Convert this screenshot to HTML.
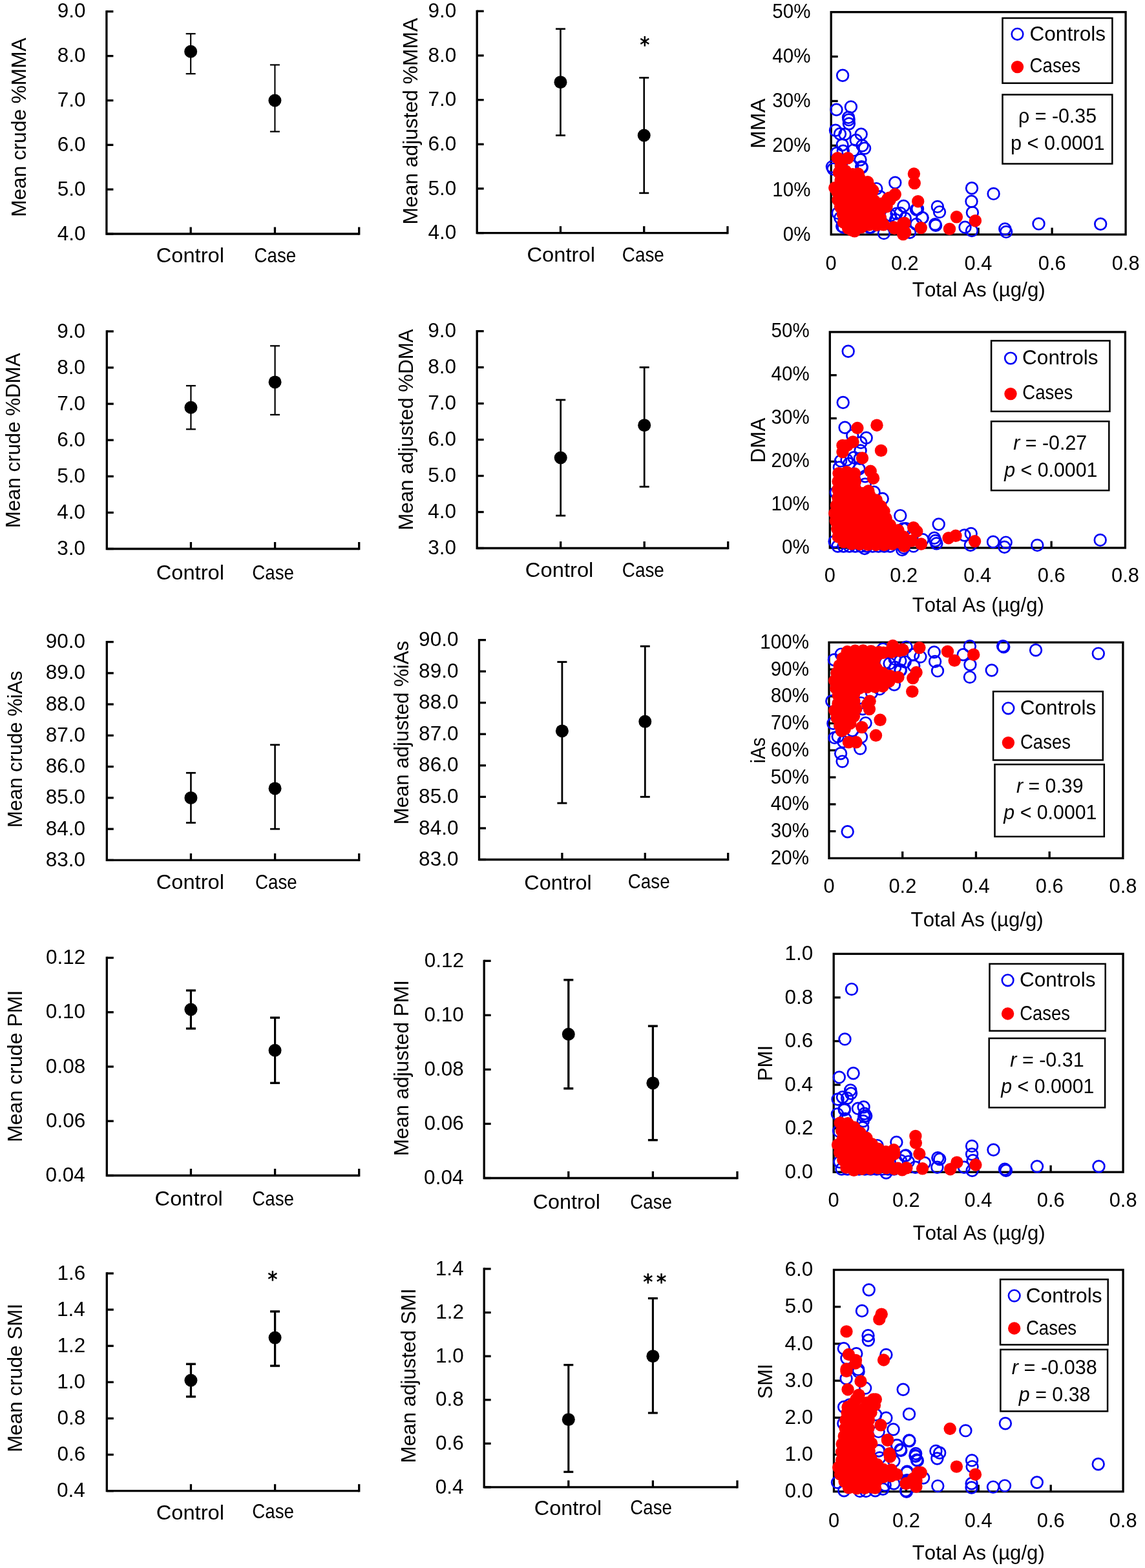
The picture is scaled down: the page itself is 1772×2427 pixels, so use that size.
<!DOCTYPE html><html><head><meta charset="utf-8"><title>Figure</title><style>html,body{margin:0;padding:0;background:#fff;}svg{display:block;}text{font-family:"Liberation Sans",Arial,sans-serif;font-kerning:none;}</style></head><body>
<svg xmlns="http://www.w3.org/2000/svg" width="1772" height="2427" viewBox="0 0 1772 2427">
<rect width="1772" height="2427" fill="#fff"/>
<path d="M164.90 16.15 L164.90 362.00 L555.70 362.00" fill="none" stroke="#000" stroke-width="3.30" stroke-linejoin="miter"/>
<line x1="164.90" y1="362.00" x2="175.40" y2="362.00" stroke="#000" stroke-width="3.30" stroke-linecap="butt"/>
<line x1="164.90" y1="293.16" x2="175.40" y2="293.16" stroke="#000" stroke-width="3.30" stroke-linecap="butt"/>
<line x1="164.90" y1="224.32" x2="175.40" y2="224.32" stroke="#000" stroke-width="3.30" stroke-linecap="butt"/>
<line x1="164.90" y1="155.48" x2="175.40" y2="155.48" stroke="#000" stroke-width="3.30" stroke-linecap="butt"/>
<line x1="164.90" y1="86.64" x2="175.40" y2="86.64" stroke="#000" stroke-width="3.30" stroke-linecap="butt"/>
<line x1="164.90" y1="17.80" x2="175.40" y2="17.80" stroke="#000" stroke-width="3.30" stroke-linecap="butt"/>
<line x1="295.17" y1="362.00" x2="295.17" y2="351.50" stroke="#000" stroke-width="3.30" stroke-linecap="butt"/>
<line x1="425.43" y1="362.00" x2="425.43" y2="351.50" stroke="#000" stroke-width="3.30" stroke-linecap="butt"/>
<line x1="555.70" y1="363.65" x2="555.70" y2="351.50" stroke="#000" stroke-width="3.30" stroke-linecap="butt"/>
<text x="88.74" y="371.60" font-size="31.50" textLength="43.79" lengthAdjust="spacingAndGlyphs">4.0</text>
<text x="88.74" y="302.76" font-size="31.50" textLength="43.79" lengthAdjust="spacingAndGlyphs">5.0</text>
<text x="88.74" y="233.92" font-size="31.50" textLength="43.79" lengthAdjust="spacingAndGlyphs">6.0</text>
<text x="88.74" y="165.08" font-size="31.50" textLength="43.79" lengthAdjust="spacingAndGlyphs">7.0</text>
<text x="88.74" y="96.24" font-size="31.50" textLength="43.79" lengthAdjust="spacingAndGlyphs">8.0</text>
<text x="88.74" y="27.40" font-size="31.50" textLength="43.79" lengthAdjust="spacingAndGlyphs">9.0</text>
<text transform="translate(40.40 333.20) rotate(-90)" x="-2.59" y="0" font-size="31.50" textLength="277.35" lengthAdjust="spacingAndGlyphs">Mean crude %MMA</text>
<text x="241.74" y="405.60" font-size="31.50" textLength="105.24" lengthAdjust="spacingAndGlyphs">Control</text>
<text x="393.49" y="405.60" font-size="31.50" textLength="64.64" lengthAdjust="spacingAndGlyphs">Case</text>
<line x1="295.17" y1="52.22" x2="295.17" y2="114.18" stroke="#000" stroke-width="2.10" stroke-linecap="butt"/>
<line x1="287.67" y1="52.22" x2="302.67" y2="52.22" stroke="#000" stroke-width="2.20" stroke-linecap="butt"/>
<line x1="287.67" y1="114.18" x2="302.67" y2="114.18" stroke="#000" stroke-width="2.20" stroke-linecap="butt"/>
<circle cx="295.17" cy="79.76" r="10.00" fill="#000"/>
<line x1="425.43" y1="100.41" x2="425.43" y2="203.67" stroke="#000" stroke-width="2.10" stroke-linecap="butt"/>
<line x1="417.93" y1="100.41" x2="432.93" y2="100.41" stroke="#000" stroke-width="2.20" stroke-linecap="butt"/>
<line x1="417.93" y1="203.67" x2="432.93" y2="203.67" stroke="#000" stroke-width="2.20" stroke-linecap="butt"/>
<circle cx="425.43" cy="155.48" r="10.00" fill="#000"/>
<path d="M738.20 15.65 L738.20 360.60 L1126.00 360.60" fill="none" stroke="#000" stroke-width="3.30" stroke-linejoin="miter"/>
<line x1="738.20" y1="360.60" x2="748.70" y2="360.60" stroke="#000" stroke-width="3.30" stroke-linecap="butt"/>
<line x1="738.20" y1="291.94" x2="748.70" y2="291.94" stroke="#000" stroke-width="3.30" stroke-linecap="butt"/>
<line x1="738.20" y1="223.28" x2="748.70" y2="223.28" stroke="#000" stroke-width="3.30" stroke-linecap="butt"/>
<line x1="738.20" y1="154.62" x2="748.70" y2="154.62" stroke="#000" stroke-width="3.30" stroke-linecap="butt"/>
<line x1="738.20" y1="85.96" x2="748.70" y2="85.96" stroke="#000" stroke-width="3.30" stroke-linecap="butt"/>
<line x1="738.20" y1="17.30" x2="748.70" y2="17.30" stroke="#000" stroke-width="3.30" stroke-linecap="butt"/>
<line x1="867.47" y1="360.60" x2="867.47" y2="350.10" stroke="#000" stroke-width="3.30" stroke-linecap="butt"/>
<line x1="996.73" y1="360.60" x2="996.73" y2="350.10" stroke="#000" stroke-width="3.30" stroke-linecap="butt"/>
<line x1="1126.00" y1="362.25" x2="1126.00" y2="350.10" stroke="#000" stroke-width="3.30" stroke-linecap="butt"/>
<text x="662.44" y="370.20" font-size="31.50" textLength="43.79" lengthAdjust="spacingAndGlyphs">4.0</text>
<text x="662.44" y="301.54" font-size="31.50" textLength="43.79" lengthAdjust="spacingAndGlyphs">5.0</text>
<text x="662.44" y="232.88" font-size="31.50" textLength="43.79" lengthAdjust="spacingAndGlyphs">6.0</text>
<text x="662.44" y="164.22" font-size="31.50" textLength="43.79" lengthAdjust="spacingAndGlyphs">7.0</text>
<text x="662.44" y="95.56" font-size="31.50" textLength="43.79" lengthAdjust="spacingAndGlyphs">8.0</text>
<text x="662.44" y="26.90" font-size="31.50" textLength="43.79" lengthAdjust="spacingAndGlyphs">9.0</text>
<text transform="translate(645.50 344.80) rotate(-90)" x="-2.61" y="0" font-size="31.50" textLength="319.67" lengthAdjust="spacingAndGlyphs">Mean adjusted %MMA</text>
<text x="815.44" y="404.90" font-size="31.50" textLength="105.55" lengthAdjust="spacingAndGlyphs">Control</text>
<text x="962.78" y="404.90" font-size="31.50" textLength="65.05" lengthAdjust="spacingAndGlyphs">Case</text>
<line x1="867.47" y1="44.76" x2="867.47" y2="209.55" stroke="#000" stroke-width="2.60" stroke-linecap="butt"/>
<line x1="859.97" y1="44.76" x2="874.97" y2="44.76" stroke="#000" stroke-width="2.70" stroke-linecap="butt"/>
<line x1="859.97" y1="209.55" x2="874.97" y2="209.55" stroke="#000" stroke-width="2.70" stroke-linecap="butt"/>
<circle cx="867.47" cy="127.16" r="10.00" fill="#000"/>
<line x1="996.73" y1="120.29" x2="996.73" y2="298.81" stroke="#000" stroke-width="2.60" stroke-linecap="butt"/>
<line x1="989.23" y1="120.29" x2="1004.23" y2="120.29" stroke="#000" stroke-width="2.70" stroke-linecap="butt"/>
<line x1="989.23" y1="298.81" x2="1004.23" y2="298.81" stroke="#000" stroke-width="2.70" stroke-linecap="butt"/>
<circle cx="996.73" cy="209.55" r="10.00" fill="#000"/>
<text x="990.32" y="81.31" font-size="34.24" textLength="15.16" lengthAdjust="spacingAndGlyphs" style="font-family:'DejaVu Sans';font-weight:bold">*</text>
<path d="M165.30 511.25 L165.30 849.50 L555.70 849.50" fill="none" stroke="#000" stroke-width="3.30" stroke-linejoin="miter"/>
<line x1="165.30" y1="849.50" x2="175.80" y2="849.50" stroke="#000" stroke-width="3.30" stroke-linecap="butt"/>
<line x1="165.30" y1="793.40" x2="175.80" y2="793.40" stroke="#000" stroke-width="3.30" stroke-linecap="butt"/>
<line x1="165.30" y1="737.30" x2="175.80" y2="737.30" stroke="#000" stroke-width="3.30" stroke-linecap="butt"/>
<line x1="165.30" y1="681.20" x2="175.80" y2="681.20" stroke="#000" stroke-width="3.30" stroke-linecap="butt"/>
<line x1="165.30" y1="625.10" x2="175.80" y2="625.10" stroke="#000" stroke-width="3.30" stroke-linecap="butt"/>
<line x1="165.30" y1="569.00" x2="175.80" y2="569.00" stroke="#000" stroke-width="3.30" stroke-linecap="butt"/>
<line x1="165.30" y1="512.90" x2="175.80" y2="512.90" stroke="#000" stroke-width="3.30" stroke-linecap="butt"/>
<line x1="295.43" y1="849.50" x2="295.43" y2="839.00" stroke="#000" stroke-width="3.30" stroke-linecap="butt"/>
<line x1="425.57" y1="849.50" x2="425.57" y2="839.00" stroke="#000" stroke-width="3.30" stroke-linecap="butt"/>
<line x1="555.70" y1="851.15" x2="555.70" y2="839.00" stroke="#000" stroke-width="3.30" stroke-linecap="butt"/>
<text x="88.24" y="859.10" font-size="31.50" textLength="43.79" lengthAdjust="spacingAndGlyphs">3.0</text>
<text x="88.24" y="803.00" font-size="31.50" textLength="43.79" lengthAdjust="spacingAndGlyphs">4.0</text>
<text x="88.24" y="746.90" font-size="31.50" textLength="43.79" lengthAdjust="spacingAndGlyphs">5.0</text>
<text x="88.24" y="690.80" font-size="31.50" textLength="43.79" lengthAdjust="spacingAndGlyphs">6.0</text>
<text x="88.24" y="634.70" font-size="31.50" textLength="43.79" lengthAdjust="spacingAndGlyphs">7.0</text>
<text x="88.24" y="578.60" font-size="31.50" textLength="43.79" lengthAdjust="spacingAndGlyphs">8.0</text>
<text x="88.24" y="522.50" font-size="31.50" textLength="43.79" lengthAdjust="spacingAndGlyphs">9.0</text>
<text transform="translate(31.10 814.80) rotate(-90)" x="-2.56" y="0" font-size="31.50" textLength="270.82" lengthAdjust="spacingAndGlyphs">Mean crude %DMA</text>
<text x="241.74" y="897.00" font-size="31.50" textLength="105.24" lengthAdjust="spacingAndGlyphs">Control</text>
<text x="390.19" y="897.00" font-size="31.50" textLength="64.74" lengthAdjust="spacingAndGlyphs">Case</text>
<line x1="295.43" y1="597.05" x2="295.43" y2="664.37" stroke="#000" stroke-width="2.20" stroke-linecap="butt"/>
<line x1="287.93" y1="597.05" x2="302.93" y2="597.05" stroke="#000" stroke-width="2.30" stroke-linecap="butt"/>
<line x1="287.93" y1="664.37" x2="302.93" y2="664.37" stroke="#000" stroke-width="2.30" stroke-linecap="butt"/>
<circle cx="295.43" cy="630.71" r="10.00" fill="#000"/>
<line x1="425.57" y1="535.34" x2="425.57" y2="641.93" stroke="#000" stroke-width="2.20" stroke-linecap="butt"/>
<line x1="418.07" y1="535.34" x2="433.07" y2="535.34" stroke="#000" stroke-width="2.30" stroke-linecap="butt"/>
<line x1="418.07" y1="641.93" x2="433.07" y2="641.93" stroke="#000" stroke-width="2.30" stroke-linecap="butt"/>
<circle cx="425.57" cy="591.44" r="10.00" fill="#000"/>
<path d="M738.20 510.95 L738.20 848.50 L1126.70 848.50" fill="none" stroke="#000" stroke-width="3.30" stroke-linejoin="miter"/>
<line x1="738.20" y1="848.50" x2="748.70" y2="848.50" stroke="#000" stroke-width="3.30" stroke-linecap="butt"/>
<line x1="738.20" y1="792.52" x2="748.70" y2="792.52" stroke="#000" stroke-width="3.30" stroke-linecap="butt"/>
<line x1="738.20" y1="736.53" x2="748.70" y2="736.53" stroke="#000" stroke-width="3.30" stroke-linecap="butt"/>
<line x1="738.20" y1="680.55" x2="748.70" y2="680.55" stroke="#000" stroke-width="3.30" stroke-linecap="butt"/>
<line x1="738.20" y1="624.57" x2="748.70" y2="624.57" stroke="#000" stroke-width="3.30" stroke-linecap="butt"/>
<line x1="738.20" y1="568.58" x2="748.70" y2="568.58" stroke="#000" stroke-width="3.30" stroke-linecap="butt"/>
<line x1="738.20" y1="512.60" x2="748.70" y2="512.60" stroke="#000" stroke-width="3.30" stroke-linecap="butt"/>
<line x1="867.70" y1="848.50" x2="867.70" y2="838.00" stroke="#000" stroke-width="3.30" stroke-linecap="butt"/>
<line x1="997.20" y1="848.50" x2="997.20" y2="838.00" stroke="#000" stroke-width="3.30" stroke-linecap="butt"/>
<line x1="1126.70" y1="850.15" x2="1126.70" y2="838.00" stroke="#000" stroke-width="3.30" stroke-linecap="butt"/>
<text x="662.34" y="858.10" font-size="31.50" textLength="43.79" lengthAdjust="spacingAndGlyphs">3.0</text>
<text x="662.34" y="802.12" font-size="31.50" textLength="43.79" lengthAdjust="spacingAndGlyphs">4.0</text>
<text x="662.34" y="746.13" font-size="31.50" textLength="43.79" lengthAdjust="spacingAndGlyphs">5.0</text>
<text x="662.34" y="690.15" font-size="31.50" textLength="43.79" lengthAdjust="spacingAndGlyphs">6.0</text>
<text x="662.34" y="634.17" font-size="31.50" textLength="43.79" lengthAdjust="spacingAndGlyphs">7.0</text>
<text x="662.34" y="578.18" font-size="31.50" textLength="43.79" lengthAdjust="spacingAndGlyphs">8.0</text>
<text x="662.34" y="522.20" font-size="31.50" textLength="43.79" lengthAdjust="spacingAndGlyphs">9.0</text>
<text transform="translate(638.80 818.30) rotate(-90)" x="-2.57" y="0" font-size="31.50" textLength="311.63" lengthAdjust="spacingAndGlyphs">Mean adjusted %DMA</text>
<text x="812.84" y="892.80" font-size="31.50" textLength="105.55" lengthAdjust="spacingAndGlyphs">Control</text>
<text x="962.78" y="892.80" font-size="31.50" textLength="65.05" lengthAdjust="spacingAndGlyphs">Case</text>
<line x1="867.70" y1="618.97" x2="867.70" y2="798.12" stroke="#000" stroke-width="2.70" stroke-linecap="butt"/>
<line x1="860.20" y1="618.97" x2="875.20" y2="618.97" stroke="#000" stroke-width="2.80" stroke-linecap="butt"/>
<line x1="860.20" y1="798.12" x2="875.20" y2="798.12" stroke="#000" stroke-width="2.80" stroke-linecap="butt"/>
<circle cx="867.70" cy="708.54" r="10.00" fill="#000"/>
<line x1="997.20" y1="568.58" x2="997.20" y2="753.33" stroke="#000" stroke-width="2.70" stroke-linecap="butt"/>
<line x1="989.70" y1="568.58" x2="1004.70" y2="568.58" stroke="#000" stroke-width="2.80" stroke-linecap="butt"/>
<line x1="989.70" y1="753.33" x2="1004.70" y2="753.33" stroke="#000" stroke-width="2.80" stroke-linecap="butt"/>
<circle cx="997.20" cy="658.16" r="10.00" fill="#000"/>
<path d="M165.30 991.95 L165.30 1331.40 L555.70 1331.40" fill="none" stroke="#000" stroke-width="3.30" stroke-linejoin="miter"/>
<line x1="165.30" y1="1331.40" x2="175.80" y2="1331.40" stroke="#000" stroke-width="3.30" stroke-linecap="butt"/>
<line x1="165.30" y1="1283.14" x2="175.80" y2="1283.14" stroke="#000" stroke-width="3.30" stroke-linecap="butt"/>
<line x1="165.30" y1="1234.89" x2="175.80" y2="1234.89" stroke="#000" stroke-width="3.30" stroke-linecap="butt"/>
<line x1="165.30" y1="1186.63" x2="175.80" y2="1186.63" stroke="#000" stroke-width="3.30" stroke-linecap="butt"/>
<line x1="165.30" y1="1138.37" x2="175.80" y2="1138.37" stroke="#000" stroke-width="3.30" stroke-linecap="butt"/>
<line x1="165.30" y1="1090.11" x2="175.80" y2="1090.11" stroke="#000" stroke-width="3.30" stroke-linecap="butt"/>
<line x1="165.30" y1="1041.86" x2="175.80" y2="1041.86" stroke="#000" stroke-width="3.30" stroke-linecap="butt"/>
<line x1="165.30" y1="993.60" x2="175.80" y2="993.60" stroke="#000" stroke-width="3.30" stroke-linecap="butt"/>
<line x1="295.43" y1="1331.40" x2="295.43" y2="1320.90" stroke="#000" stroke-width="3.30" stroke-linecap="butt"/>
<line x1="425.57" y1="1331.40" x2="425.57" y2="1320.90" stroke="#000" stroke-width="3.30" stroke-linecap="butt"/>
<line x1="555.70" y1="1333.05" x2="555.70" y2="1320.90" stroke="#000" stroke-width="3.30" stroke-linecap="butt"/>
<text x="70.72" y="1341.00" font-size="31.50" textLength="61.31" lengthAdjust="spacingAndGlyphs">83.0</text>
<text x="70.72" y="1292.74" font-size="31.50" textLength="61.31" lengthAdjust="spacingAndGlyphs">84.0</text>
<text x="70.72" y="1244.49" font-size="31.50" textLength="61.31" lengthAdjust="spacingAndGlyphs">85.0</text>
<text x="70.72" y="1196.23" font-size="31.50" textLength="61.31" lengthAdjust="spacingAndGlyphs">86.0</text>
<text x="70.72" y="1147.97" font-size="31.50" textLength="61.31" lengthAdjust="spacingAndGlyphs">87.0</text>
<text x="70.72" y="1099.71" font-size="31.50" textLength="61.31" lengthAdjust="spacingAndGlyphs">88.0</text>
<text x="70.72" y="1051.46" font-size="31.50" textLength="61.31" lengthAdjust="spacingAndGlyphs">89.0</text>
<text x="70.72" y="1003.20" font-size="31.50" textLength="61.31" lengthAdjust="spacingAndGlyphs">90.0</text>
<text transform="translate(34.00 1278.50) rotate(-90)" x="-2.54" y="0" font-size="31.50" textLength="242.86" lengthAdjust="spacingAndGlyphs">Mean crude %iAs</text>
<text x="241.74" y="1376.40" font-size="31.50" textLength="105.24" lengthAdjust="spacingAndGlyphs">Control</text>
<text x="394.99" y="1376.40" font-size="31.50" textLength="64.64" lengthAdjust="spacingAndGlyphs">Case</text>
<line x1="295.43" y1="1196.28" x2="295.43" y2="1273.49" stroke="#000" stroke-width="2.60" stroke-linecap="butt"/>
<line x1="287.93" y1="1196.28" x2="302.93" y2="1196.28" stroke="#000" stroke-width="2.70" stroke-linecap="butt"/>
<line x1="287.93" y1="1273.49" x2="302.93" y2="1273.49" stroke="#000" stroke-width="2.70" stroke-linecap="butt"/>
<circle cx="295.43" cy="1234.89" r="10.00" fill="#000"/>
<line x1="425.57" y1="1152.85" x2="425.57" y2="1283.14" stroke="#000" stroke-width="2.60" stroke-linecap="butt"/>
<line x1="418.07" y1="1152.85" x2="433.07" y2="1152.85" stroke="#000" stroke-width="2.70" stroke-linecap="butt"/>
<line x1="418.07" y1="1283.14" x2="433.07" y2="1283.14" stroke="#000" stroke-width="2.70" stroke-linecap="butt"/>
<circle cx="425.57" cy="1220.41" r="10.00" fill="#000"/>
<path d="M741.50 988.95 L741.50 1330.50 L1126.70 1330.50" fill="none" stroke="#000" stroke-width="3.30" stroke-linejoin="miter"/>
<line x1="741.50" y1="1330.50" x2="752.00" y2="1330.50" stroke="#000" stroke-width="3.30" stroke-linecap="butt"/>
<line x1="741.50" y1="1281.94" x2="752.00" y2="1281.94" stroke="#000" stroke-width="3.30" stroke-linecap="butt"/>
<line x1="741.50" y1="1233.39" x2="752.00" y2="1233.39" stroke="#000" stroke-width="3.30" stroke-linecap="butt"/>
<line x1="741.50" y1="1184.83" x2="752.00" y2="1184.83" stroke="#000" stroke-width="3.30" stroke-linecap="butt"/>
<line x1="741.50" y1="1136.27" x2="752.00" y2="1136.27" stroke="#000" stroke-width="3.30" stroke-linecap="butt"/>
<line x1="741.50" y1="1087.71" x2="752.00" y2="1087.71" stroke="#000" stroke-width="3.30" stroke-linecap="butt"/>
<line x1="741.50" y1="1039.16" x2="752.00" y2="1039.16" stroke="#000" stroke-width="3.30" stroke-linecap="butt"/>
<line x1="741.50" y1="990.60" x2="752.00" y2="990.60" stroke="#000" stroke-width="3.30" stroke-linecap="butt"/>
<line x1="869.90" y1="1330.50" x2="869.90" y2="1320.00" stroke="#000" stroke-width="3.30" stroke-linecap="butt"/>
<line x1="998.30" y1="1330.50" x2="998.30" y2="1320.00" stroke="#000" stroke-width="3.30" stroke-linecap="butt"/>
<line x1="1126.70" y1="1332.15" x2="1126.70" y2="1320.00" stroke="#000" stroke-width="3.30" stroke-linecap="butt"/>
<text x="648.12" y="1340.10" font-size="31.50" textLength="61.31" lengthAdjust="spacingAndGlyphs">83.0</text>
<text x="648.12" y="1291.54" font-size="31.50" textLength="61.31" lengthAdjust="spacingAndGlyphs">84.0</text>
<text x="648.12" y="1242.99" font-size="31.50" textLength="61.31" lengthAdjust="spacingAndGlyphs">85.0</text>
<text x="648.12" y="1194.43" font-size="31.50" textLength="61.31" lengthAdjust="spacingAndGlyphs">86.0</text>
<text x="648.12" y="1145.87" font-size="31.50" textLength="61.31" lengthAdjust="spacingAndGlyphs">87.0</text>
<text x="648.12" y="1097.31" font-size="31.50" textLength="61.31" lengthAdjust="spacingAndGlyphs">88.0</text>
<text x="648.12" y="1048.76" font-size="31.50" textLength="61.31" lengthAdjust="spacingAndGlyphs">89.0</text>
<text x="648.12" y="1000.20" font-size="31.50" textLength="61.31" lengthAdjust="spacingAndGlyphs">90.0</text>
<text transform="translate(631.80 1273.80) rotate(-90)" x="-2.56" y="0" font-size="31.50" textLength="284.49" lengthAdjust="spacingAndGlyphs">Mean adjusted %iAs</text>
<text x="811.36" y="1376.50" font-size="31.50" textLength="104.31" lengthAdjust="spacingAndGlyphs">Control</text>
<text x="971.79" y="1374.60" font-size="31.50" textLength="64.95" lengthAdjust="spacingAndGlyphs">Case</text>
<line x1="869.90" y1="1024.59" x2="869.90" y2="1243.10" stroke="#000" stroke-width="2.80" stroke-linecap="butt"/>
<line x1="862.40" y1="1024.59" x2="877.40" y2="1024.59" stroke="#000" stroke-width="2.90" stroke-linecap="butt"/>
<line x1="862.40" y1="1243.10" x2="877.40" y2="1243.10" stroke="#000" stroke-width="2.90" stroke-linecap="butt"/>
<circle cx="869.90" cy="1131.42" r="10.00" fill="#000"/>
<line x1="998.30" y1="1000.31" x2="998.30" y2="1233.39" stroke="#000" stroke-width="2.80" stroke-linecap="butt"/>
<line x1="990.80" y1="1000.31" x2="1005.80" y2="1000.31" stroke="#000" stroke-width="2.90" stroke-linecap="butt"/>
<line x1="990.80" y1="1233.39" x2="1005.80" y2="1233.39" stroke="#000" stroke-width="2.90" stroke-linecap="butt"/>
<circle cx="998.30" cy="1116.85" r="10.00" fill="#000"/>
<path d="M165.30 1480.85 L165.30 1819.50 L555.70 1819.50" fill="none" stroke="#000" stroke-width="3.30" stroke-linejoin="miter"/>
<line x1="165.30" y1="1819.50" x2="175.80" y2="1819.50" stroke="#000" stroke-width="3.30" stroke-linecap="butt"/>
<line x1="165.30" y1="1735.25" x2="175.80" y2="1735.25" stroke="#000" stroke-width="3.30" stroke-linecap="butt"/>
<line x1="165.30" y1="1651.00" x2="175.80" y2="1651.00" stroke="#000" stroke-width="3.30" stroke-linecap="butt"/>
<line x1="165.30" y1="1566.75" x2="175.80" y2="1566.75" stroke="#000" stroke-width="3.30" stroke-linecap="butt"/>
<line x1="165.30" y1="1482.50" x2="175.80" y2="1482.50" stroke="#000" stroke-width="3.30" stroke-linecap="butt"/>
<line x1="295.43" y1="1819.50" x2="295.43" y2="1809.00" stroke="#000" stroke-width="3.30" stroke-linecap="butt"/>
<line x1="425.57" y1="1819.50" x2="425.57" y2="1809.00" stroke="#000" stroke-width="3.30" stroke-linecap="butt"/>
<line x1="555.70" y1="1821.15" x2="555.70" y2="1809.00" stroke="#000" stroke-width="3.30" stroke-linecap="butt"/>
<text x="70.41" y="1829.10" font-size="31.50" textLength="61.31" lengthAdjust="spacingAndGlyphs">0.04</text>
<text x="70.88" y="1744.85" font-size="31.50" textLength="61.31" lengthAdjust="spacingAndGlyphs">0.06</text>
<text x="70.86" y="1660.60" font-size="31.50" textLength="61.31" lengthAdjust="spacingAndGlyphs">0.08</text>
<text x="70.72" y="1576.35" font-size="31.50" textLength="61.31" lengthAdjust="spacingAndGlyphs">0.10</text>
<text x="71.08" y="1492.10" font-size="31.50" textLength="61.31" lengthAdjust="spacingAndGlyphs">0.12</text>
<text transform="translate(33.90 1765.40) rotate(-90)" x="-2.63" y="0" font-size="31.50" textLength="235.50" lengthAdjust="spacingAndGlyphs">Mean crude PMI</text>
<text x="239.64" y="1865.90" font-size="31.50" textLength="105.14" lengthAdjust="spacingAndGlyphs">Control</text>
<text x="390.19" y="1865.90" font-size="31.50" textLength="64.74" lengthAdjust="spacingAndGlyphs">Case</text>
<line x1="295.43" y1="1533.05" x2="295.43" y2="1592.03" stroke="#000" stroke-width="3.20" stroke-linecap="butt"/>
<line x1="287.93" y1="1533.05" x2="302.93" y2="1533.05" stroke="#000" stroke-width="3.30" stroke-linecap="butt"/>
<line x1="287.93" y1="1592.03" x2="302.93" y2="1592.03" stroke="#000" stroke-width="3.30" stroke-linecap="butt"/>
<circle cx="295.43" cy="1562.54" r="10.00" fill="#000"/>
<line x1="425.57" y1="1575.17" x2="425.57" y2="1676.28" stroke="#000" stroke-width="3.20" stroke-linecap="butt"/>
<line x1="418.07" y1="1575.17" x2="433.07" y2="1575.17" stroke="#000" stroke-width="3.30" stroke-linecap="butt"/>
<line x1="418.07" y1="1676.28" x2="433.07" y2="1676.28" stroke="#000" stroke-width="3.30" stroke-linecap="butt"/>
<circle cx="425.57" cy="1625.72" r="10.00" fill="#000"/>
<path d="M749.20 1485.65 L749.20 1823.50 L1141.00 1823.50" fill="none" stroke="#000" stroke-width="3.30" stroke-linejoin="miter"/>
<line x1="749.20" y1="1823.50" x2="759.70" y2="1823.50" stroke="#000" stroke-width="3.30" stroke-linecap="butt"/>
<line x1="749.20" y1="1739.45" x2="759.70" y2="1739.45" stroke="#000" stroke-width="3.30" stroke-linecap="butt"/>
<line x1="749.20" y1="1655.40" x2="759.70" y2="1655.40" stroke="#000" stroke-width="3.30" stroke-linecap="butt"/>
<line x1="749.20" y1="1571.35" x2="759.70" y2="1571.35" stroke="#000" stroke-width="3.30" stroke-linecap="butt"/>
<line x1="749.20" y1="1487.30" x2="759.70" y2="1487.30" stroke="#000" stroke-width="3.30" stroke-linecap="butt"/>
<line x1="879.80" y1="1823.50" x2="879.80" y2="1813.00" stroke="#000" stroke-width="3.30" stroke-linecap="butt"/>
<line x1="1010.40" y1="1823.50" x2="1010.40" y2="1813.00" stroke="#000" stroke-width="3.30" stroke-linecap="butt"/>
<line x1="1141.00" y1="1825.15" x2="1141.00" y2="1813.00" stroke="#000" stroke-width="3.30" stroke-linecap="butt"/>
<text x="656.11" y="1833.10" font-size="31.50" textLength="61.31" lengthAdjust="spacingAndGlyphs">0.04</text>
<text x="656.58" y="1749.05" font-size="31.50" textLength="61.31" lengthAdjust="spacingAndGlyphs">0.06</text>
<text x="656.56" y="1665.00" font-size="31.50" textLength="61.31" lengthAdjust="spacingAndGlyphs">0.08</text>
<text x="656.42" y="1580.95" font-size="31.50" textLength="61.31" lengthAdjust="spacingAndGlyphs">0.10</text>
<text x="656.78" y="1496.90" font-size="31.50" textLength="61.31" lengthAdjust="spacingAndGlyphs">0.12</text>
<text transform="translate(632.00 1786.70) rotate(-90)" x="-2.59" y="0" font-size="31.50" textLength="272.21" lengthAdjust="spacingAndGlyphs">Mean adjusted PMI</text>
<text x="824.66" y="1870.60" font-size="31.50" textLength="104.41" lengthAdjust="spacingAndGlyphs">Control</text>
<text x="975.19" y="1870.60" font-size="31.50" textLength="64.74" lengthAdjust="spacingAndGlyphs">Case</text>
<line x1="879.80" y1="1516.72" x2="879.80" y2="1684.82" stroke="#000" stroke-width="3.30" stroke-linecap="butt"/>
<line x1="872.30" y1="1516.72" x2="887.30" y2="1516.72" stroke="#000" stroke-width="3.40" stroke-linecap="butt"/>
<line x1="872.30" y1="1684.82" x2="887.30" y2="1684.82" stroke="#000" stroke-width="3.40" stroke-linecap="butt"/>
<circle cx="879.80" cy="1600.77" r="10.00" fill="#000"/>
<line x1="1010.40" y1="1588.16" x2="1010.40" y2="1764.66" stroke="#000" stroke-width="3.30" stroke-linecap="butt"/>
<line x1="1002.90" y1="1588.16" x2="1017.90" y2="1588.16" stroke="#000" stroke-width="3.40" stroke-linecap="butt"/>
<line x1="1002.90" y1="1764.66" x2="1017.90" y2="1764.66" stroke="#000" stroke-width="3.40" stroke-linecap="butt"/>
<circle cx="1010.40" cy="1676.41" r="10.00" fill="#000"/>
<path d="M165.30 1969.35 L165.30 2307.70 L555.70 2307.70" fill="none" stroke="#000" stroke-width="3.30" stroke-linejoin="miter"/>
<line x1="165.30" y1="2307.70" x2="175.80" y2="2307.70" stroke="#000" stroke-width="3.30" stroke-linecap="butt"/>
<line x1="165.30" y1="2251.58" x2="175.80" y2="2251.58" stroke="#000" stroke-width="3.30" stroke-linecap="butt"/>
<line x1="165.30" y1="2195.47" x2="175.80" y2="2195.47" stroke="#000" stroke-width="3.30" stroke-linecap="butt"/>
<line x1="165.30" y1="2139.35" x2="175.80" y2="2139.35" stroke="#000" stroke-width="3.30" stroke-linecap="butt"/>
<line x1="165.30" y1="2083.23" x2="175.80" y2="2083.23" stroke="#000" stroke-width="3.30" stroke-linecap="butt"/>
<line x1="165.30" y1="2027.12" x2="175.80" y2="2027.12" stroke="#000" stroke-width="3.30" stroke-linecap="butt"/>
<line x1="165.30" y1="1971.00" x2="175.80" y2="1971.00" stroke="#000" stroke-width="3.30" stroke-linecap="butt"/>
<line x1="295.43" y1="2307.70" x2="295.43" y2="2297.20" stroke="#000" stroke-width="3.30" stroke-linecap="butt"/>
<line x1="425.57" y1="2307.70" x2="425.57" y2="2297.20" stroke="#000" stroke-width="3.30" stroke-linecap="butt"/>
<line x1="555.70" y1="2309.35" x2="555.70" y2="2297.20" stroke="#000" stroke-width="3.30" stroke-linecap="butt"/>
<text x="87.93" y="2317.30" font-size="31.50" textLength="43.79" lengthAdjust="spacingAndGlyphs">0.4</text>
<text x="88.39" y="2261.18" font-size="31.50" textLength="43.79" lengthAdjust="spacingAndGlyphs">0.6</text>
<text x="88.38" y="2205.07" font-size="31.50" textLength="43.79" lengthAdjust="spacingAndGlyphs">0.8</text>
<text x="88.24" y="2148.95" font-size="31.50" textLength="43.79" lengthAdjust="spacingAndGlyphs">1.0</text>
<text x="88.59" y="2092.83" font-size="31.50" textLength="43.79" lengthAdjust="spacingAndGlyphs">1.2</text>
<text x="87.93" y="2036.72" font-size="31.50" textLength="43.79" lengthAdjust="spacingAndGlyphs">1.4</text>
<text x="88.39" y="1980.60" font-size="31.50" textLength="43.79" lengthAdjust="spacingAndGlyphs">1.6</text>
<text transform="translate(33.60 2245.20) rotate(-90)" x="-2.57" y="0" font-size="31.50" textLength="229.86" lengthAdjust="spacingAndGlyphs">Mean crude SMI</text>
<text x="241.74" y="2352.00" font-size="31.50" textLength="105.24" lengthAdjust="spacingAndGlyphs">Control</text>
<text x="390.19" y="2349.50" font-size="31.50" textLength="64.74" lengthAdjust="spacingAndGlyphs">Case</text>
<line x1="295.43" y1="2111.29" x2="295.43" y2="2161.80" stroke="#000" stroke-width="3.30" stroke-linecap="butt"/>
<line x1="287.93" y1="2111.29" x2="302.93" y2="2111.29" stroke="#000" stroke-width="3.40" stroke-linecap="butt"/>
<line x1="287.93" y1="2161.80" x2="302.93" y2="2161.80" stroke="#000" stroke-width="3.40" stroke-linecap="butt"/>
<circle cx="295.43" cy="2136.54" r="10.00" fill="#000"/>
<line x1="425.57" y1="2029.92" x2="425.57" y2="2114.10" stroke="#000" stroke-width="3.30" stroke-linecap="butt"/>
<line x1="418.07" y1="2029.92" x2="433.07" y2="2029.92" stroke="#000" stroke-width="3.40" stroke-linecap="butt"/>
<line x1="418.07" y1="2114.10" x2="433.07" y2="2114.10" stroke="#000" stroke-width="3.40" stroke-linecap="butt"/>
<circle cx="425.57" cy="2070.61" r="10.00" fill="#000"/>
<text x="414.22" y="1991.81" font-size="34.24" textLength="15.27" lengthAdjust="spacingAndGlyphs" style="font-family:'DejaVu Sans';font-weight:bold">*</text>
<path d="M749.20 1962.35 L749.20 2301.90 L1141.00 2301.90" fill="none" stroke="#000" stroke-width="3.30" stroke-linejoin="miter"/>
<line x1="749.20" y1="2301.90" x2="759.70" y2="2301.90" stroke="#000" stroke-width="3.30" stroke-linecap="butt"/>
<line x1="749.20" y1="2234.32" x2="759.70" y2="2234.32" stroke="#000" stroke-width="3.30" stroke-linecap="butt"/>
<line x1="749.20" y1="2166.74" x2="759.70" y2="2166.74" stroke="#000" stroke-width="3.30" stroke-linecap="butt"/>
<line x1="749.20" y1="2099.16" x2="759.70" y2="2099.16" stroke="#000" stroke-width="3.30" stroke-linecap="butt"/>
<line x1="749.20" y1="2031.58" x2="759.70" y2="2031.58" stroke="#000" stroke-width="3.30" stroke-linecap="butt"/>
<line x1="749.20" y1="1964.00" x2="759.70" y2="1964.00" stroke="#000" stroke-width="3.30" stroke-linecap="butt"/>
<line x1="879.80" y1="2301.90" x2="879.80" y2="2291.40" stroke="#000" stroke-width="3.30" stroke-linecap="butt"/>
<line x1="1010.40" y1="2301.90" x2="1010.40" y2="2291.40" stroke="#000" stroke-width="3.30" stroke-linecap="butt"/>
<line x1="1141.00" y1="2303.55" x2="1141.00" y2="2291.40" stroke="#000" stroke-width="3.30" stroke-linecap="butt"/>
<text x="673.63" y="2311.50" font-size="31.50" textLength="43.79" lengthAdjust="spacingAndGlyphs">0.4</text>
<text x="674.09" y="2243.92" font-size="31.50" textLength="43.79" lengthAdjust="spacingAndGlyphs">0.6</text>
<text x="674.08" y="2176.34" font-size="31.50" textLength="43.79" lengthAdjust="spacingAndGlyphs">0.8</text>
<text x="673.94" y="2108.76" font-size="31.50" textLength="43.79" lengthAdjust="spacingAndGlyphs">1.0</text>
<text x="674.29" y="2041.18" font-size="31.50" textLength="43.79" lengthAdjust="spacingAndGlyphs">1.2</text>
<text x="673.63" y="1973.60" font-size="31.50" textLength="43.79" lengthAdjust="spacingAndGlyphs">1.4</text>
<text transform="translate(642.80 2261.90) rotate(-90)" x="-2.57" y="0" font-size="31.50" textLength="270.17" lengthAdjust="spacingAndGlyphs">Mean adjusted SMI</text>
<text x="826.76" y="2345.40" font-size="31.50" textLength="104.41" lengthAdjust="spacingAndGlyphs">Control</text>
<text x="975.19" y="2343.50" font-size="31.50" textLength="64.74" lengthAdjust="spacingAndGlyphs">Case</text>
<line x1="879.80" y1="2112.68" x2="879.80" y2="2278.25" stroke="#000" stroke-width="3.10" stroke-linecap="butt"/>
<line x1="872.30" y1="2112.68" x2="887.30" y2="2112.68" stroke="#000" stroke-width="3.20" stroke-linecap="butt"/>
<line x1="872.30" y1="2278.25" x2="887.30" y2="2278.25" stroke="#000" stroke-width="3.20" stroke-linecap="butt"/>
<circle cx="879.80" cy="2197.15" r="10.00" fill="#000"/>
<line x1="1010.40" y1="2009.62" x2="1010.40" y2="2187.01" stroke="#000" stroke-width="3.10" stroke-linecap="butt"/>
<line x1="1002.90" y1="2009.62" x2="1017.90" y2="2009.62" stroke="#000" stroke-width="3.20" stroke-linecap="butt"/>
<line x1="1002.90" y1="2187.01" x2="1017.90" y2="2187.01" stroke="#000" stroke-width="3.20" stroke-linecap="butt"/>
<circle cx="1010.40" cy="2099.16" r="10.00" fill="#000"/>
<text x="995.22" y="1995.89" font-size="33.81" textLength="15.16" lengthAdjust="spacingAndGlyphs" style="font-family:'DejaVu Sans';font-weight:bold">*</text>
<text x="1015.70" y="1995.89" font-size="33.81" textLength="15.59" lengthAdjust="spacingAndGlyphs" style="font-family:'DejaVu Sans';font-weight:bold">*</text>
<rect x="1286.20" y="18.70" width="455.90" height="344.30" fill="none" stroke="#000" stroke-width="3.30"/>
<line x1="1286.20" y1="294.14" x2="1296.70" y2="294.14" stroke="#000" stroke-width="3.30" stroke-linecap="butt"/>
<line x1="1286.20" y1="225.28" x2="1296.70" y2="225.28" stroke="#000" stroke-width="3.30" stroke-linecap="butt"/>
<line x1="1286.20" y1="156.42" x2="1296.70" y2="156.42" stroke="#000" stroke-width="3.30" stroke-linecap="butt"/>
<line x1="1286.20" y1="87.56" x2="1296.70" y2="87.56" stroke="#000" stroke-width="3.30" stroke-linecap="butt"/>
<line x1="1400.17" y1="363.00" x2="1400.17" y2="352.50" stroke="#000" stroke-width="3.30" stroke-linecap="butt"/>
<line x1="1514.15" y1="363.00" x2="1514.15" y2="352.50" stroke="#000" stroke-width="3.30" stroke-linecap="butt"/>
<line x1="1628.12" y1="363.00" x2="1628.12" y2="352.50" stroke="#000" stroke-width="3.30" stroke-linecap="butt"/>
<g fill="none" stroke="#0000f5" stroke-width="2.7">
<circle cx="1304.1" cy="116.8" r="8.85"/>
<circle cx="1294.5" cy="169.7" r="8.85"/>
<circle cx="1316.9" cy="165.4" r="8.85"/>
<circle cx="1313.0" cy="181.8" r="8.85"/>
<circle cx="1313.6" cy="185.4" r="8.85"/>
<circle cx="1313.9" cy="191.5" r="8.85"/>
<circle cx="1293.0" cy="201.8" r="8.85"/>
<circle cx="1300.0" cy="207.2" r="8.85"/>
<circle cx="1307.5" cy="207.8" r="8.85"/>
<circle cx="1332.7" cy="207.8" r="8.85"/>
<circle cx="1324.8" cy="216.9" r="8.85"/>
<circle cx="1303.6" cy="224.2" r="8.85"/>
<circle cx="1334.5" cy="225.4" r="8.85"/>
<circle cx="1338.1" cy="229.6" r="8.85"/>
<circle cx="1320.6" cy="232.6" r="8.85"/>
<circle cx="1304.8" cy="233.8" r="8.85"/>
<circle cx="1295.1" cy="236.9" r="8.85"/>
<circle cx="1331.5" cy="247.2" r="8.85"/>
<circle cx="1333.3" cy="258.1" r="8.85"/>
<circle cx="1287.9" cy="258.1" r="8.85"/>
<circle cx="1289.4" cy="261.6" r="8.85"/>
<circle cx="1319.2" cy="257.3" r="8.85"/>
<circle cx="1333.8" cy="259.4" r="8.85"/>
<circle cx="1385.3" cy="282.7" r="8.85"/>
<circle cx="1356.3" cy="292.1" r="8.85"/>
<circle cx="1362.1" cy="304.5" r="8.85"/>
<circle cx="1398.4" cy="319.0" r="8.85"/>
<circle cx="1387.5" cy="330.6" r="8.85"/>
<circle cx="1378.1" cy="333.5" r="8.85"/>
<circle cx="1372.3" cy="333.5" r="8.85"/>
<circle cx="1296.7" cy="329.9" r="8.85"/>
<circle cx="1300.3" cy="337.2" r="8.85"/>
<circle cx="1303.2" cy="350.2" r="8.85"/>
<circle cx="1347.6" cy="351.7" r="8.85"/>
<circle cx="1367.9" cy="361.1" r="8.85"/>
<circle cx="1393.3" cy="329.9" r="8.85"/>
<circle cx="1386.0" cy="340.1" r="8.85"/>
<circle cx="1418.0" cy="324.4" r="8.85"/>
<circle cx="1427.1" cy="337.1" r="8.85"/>
<circle cx="1418.0" cy="347.1" r="8.85"/>
<circle cx="1400.8" cy="338.0" r="8.85"/>
<circle cx="1408.0" cy="359.8" r="8.85"/>
<circle cx="1345.4" cy="351.7" r="8.85"/>
<circle cx="1305.4" cy="351.7" r="8.85"/>
<circle cx="1504.0" cy="291.3" r="8.85"/>
<circle cx="1503.5" cy="311.7" r="8.85"/>
<circle cx="1504.9" cy="329.0" r="8.85"/>
<circle cx="1537.6" cy="299.9" r="8.85"/>
<circle cx="1450.9" cy="319.9" r="8.85"/>
<circle cx="1454.0" cy="328.1" r="8.85"/>
<circle cx="1427.7" cy="337.1" r="8.85"/>
<circle cx="1448.1" cy="348.9" r="8.85"/>
<circle cx="1447.2" cy="347.1" r="8.85"/>
<circle cx="1493.5" cy="351.7" r="8.85"/>
<circle cx="1504.0" cy="357.1" r="8.85"/>
<circle cx="1555.3" cy="354.4" r="8.85"/>
<circle cx="1557.1" cy="358.9" r="8.85"/>
<circle cx="1420.0" cy="323.5" r="8.85"/>
<circle cx="1607.5" cy="346.4" r="8.85"/>
<circle cx="1703.2" cy="346.8" r="8.85"/>
</g><g fill="#ff0000">
<circle cx="1298.4" cy="266.9" r="9.7"/>
<circle cx="1301.1" cy="278.9" r="9.7"/>
<circle cx="1297.7" cy="289.5" r="9.7"/>
<circle cx="1296.0" cy="297.2" r="9.7"/>
<circle cx="1296.9" cy="309.5" r="9.7"/>
<circle cx="1300.6" cy="320.3" r="9.7"/>
<circle cx="1304.4" cy="331.8" r="9.7"/>
<circle cx="1305.4" cy="344.1" r="9.7"/>
<circle cx="1312.6" cy="353.4" r="9.7"/>
<circle cx="1322.5" cy="357.9" r="9.7"/>
<circle cx="1333.2" cy="351.7" r="9.7"/>
<circle cx="1345.0" cy="348.1" r="9.7"/>
<circle cx="1357.0" cy="348.5" r="9.7"/>
<circle cx="1367.3" cy="347.9" r="9.7"/>
<circle cx="1362.5" cy="337.4" r="9.7"/>
<circle cx="1361.7" cy="326.3" r="9.7"/>
<circle cx="1372.1" cy="319.7" r="9.7"/>
<circle cx="1377.2" cy="309.3" r="9.7"/>
<circle cx="1384.5" cy="301.8" r="9.7"/>
<circle cx="1374.0" cy="307.7" r="9.7"/>
<circle cx="1364.1" cy="315.1" r="9.7"/>
<circle cx="1353.2" cy="311.0" r="9.7"/>
<circle cx="1348.4" cy="300.6" r="9.7"/>
<circle cx="1346.7" cy="290.3" r="9.7"/>
<circle cx="1337.2" cy="283.6" r="9.7"/>
<circle cx="1329.6" cy="274.8" r="9.7"/>
<circle cx="1319.7" cy="269.7" r="9.7"/>
<circle cx="1308.5" cy="264.7" r="9.7"/>
<path d="M1298.4 266.9 L1298.4 270.6 L1301.6 280.3 L1301.8 281.1 L1301.9 281.8 L1302.0 282.6 L1302.0 283.3 L1301.9 284.0 L1301.7 284.8 L1301.5 285.5 L1301.2 286.2 L1300.8 286.8 L1300.3 287.4 L1299.8 288.0 L1299.3 288.5 L1298.7 288.9 L1298.0 289.3 L1297.4 289.6 L1292.4 291.7 L1292.4 291.9 L1295.6 296.5 L1296.0 297.2 L1296.3 297.8 L1296.6 298.6 L1296.7 299.3 L1296.9 300.0 L1296.9 300.8 L1296.9 316.6 L1301.3 321.0 L1301.8 321.6 L1302.3 322.2 L1302.7 322.9 L1303.0 323.7 L1303.3 324.4 L1303.4 325.2 L1304.8 334.6 L1304.9 335.3 L1305.5 346.8 L1312.7 353.5 L1313.1 353.9 L1313.5 354.4 L1316.5 358.2 L1321.5 358.6 L1328.1 354.2 L1328.6 353.8 L1329.2 353.6 L1338.6 349.3 L1339.3 349.0 L1340.0 348.8 L1340.7 348.7 L1351.6 347.2 L1352.3 347.1 L1353.0 347.1 L1353.8 347.2 L1354.5 347.3 L1355.2 347.6 L1355.8 347.8 L1356.5 348.2 L1361.3 351.1 L1366.0 350.1 L1367.9 346.9 L1366.8 342.2 L1361.6 336.4 L1361.2 335.9 L1360.8 335.2 L1360.4 334.6 L1360.1 333.9 L1359.9 333.2 L1359.8 332.5 L1359.7 331.7 L1359.7 331.0 L1359.8 330.3 L1359.9 329.5 L1360.2 328.8 L1360.4 328.1 L1360.8 327.5 L1361.2 326.9 L1361.7 326.3 L1362.2 325.8 L1362.8 325.3 L1363.4 324.9 L1371.6 320.1 L1375.6 316.9 L1375.6 313.9 L1375.6 313.1 L1375.8 312.4 L1375.9 311.7 L1376.2 310.9 L1376.5 310.3 L1376.9 309.6 L1377.4 309.0 L1377.9 308.5 L1378.5 308.0 L1379.1 307.5 L1379.8 307.2 L1384.7 304.8 L1385.4 303.1 L1384.6 301.8 L1383.2 301.5 L1376.6 305.5 L1366.1 314.0 L1365.5 314.4 L1364.8 314.8 L1364.2 315.1 L1363.5 315.3 L1362.7 315.5 L1362.0 315.6 L1361.3 315.6 L1360.5 315.5 L1359.8 315.4 L1359.1 315.2 L1358.4 315.0 L1357.7 314.6 L1357.1 314.2 L1356.5 313.8 L1350.6 308.7 L1350.1 308.2 L1349.6 307.6 L1349.2 307.0 L1348.8 306.4 L1348.5 305.7 L1348.3 305.0 L1348.1 304.3 L1348.0 303.5 L1348.0 302.8 L1348.1 302.1 L1348.2 301.3 L1348.4 300.6 L1348.7 299.9 L1350.6 295.6 L1350.1 293.2 L1347.1 290.6 L1346.5 290.1 L1346.0 289.6 L1345.6 289.0 L1343.0 284.9 L1336.4 283.4 L1335.7 283.2 L1335.0 282.9 L1334.4 282.6 L1333.7 282.2 L1333.2 281.7 L1332.6 281.2 L1332.2 280.7 L1331.7 280.1 L1331.4 279.4 L1331.1 278.8 L1329.2 273.9 L1326.7 270.3 L1320.1 269.8 L1319.4 269.7 L1318.7 269.5 L1318.0 269.3 L1317.4 269.0 L1308.0 264.4 L1301.3 262.8 L1298.4 266.9 Z"/>
<circle cx="1296.3" cy="244.7" r="9.7"/>
<circle cx="1312.1" cy="244.7" r="9.7"/>
<circle cx="1301.2" cy="256.9" r="9.7"/>
<circle cx="1414.4" cy="269.0" r="9.7"/>
<circle cx="1415.3" cy="283.6" r="9.7"/>
<circle cx="1420.7" cy="311.7" r="9.7"/>
<circle cx="1399.9" cy="345.3" r="9.7"/>
<circle cx="1384.4" cy="353.5" r="9.7"/>
<circle cx="1400.8" cy="359.8" r="9.7"/>
<circle cx="1425.3" cy="352.6" r="9.7"/>
<circle cx="1366.3" cy="347.1" r="9.7"/>
<circle cx="1469.5" cy="354.4" r="9.7"/>
<circle cx="1480.4" cy="335.8" r="9.7"/>
<circle cx="1509.4" cy="341.7" r="9.7"/>
<circle cx="1383.1" cy="351.7" r="9.7"/>
<circle cx="1397.7" cy="345.9" r="9.7"/>
<circle cx="1397.7" cy="362.6" r="9.7"/>
<circle cx="1291.8" cy="290.8" r="9.7"/>
<circle cx="1328.1" cy="269.0" r="9.7"/>
<circle cx="1342.7" cy="281.7" r="9.7"/>
<circle cx="1350.8" cy="294.5" r="9.7"/>
<circle cx="1385.3" cy="300.8" r="9.7"/>
<circle cx="1376.2" cy="306.3" r="9.7"/>
<circle cx="1318.1" cy="356.2" r="9.7"/>
</g>
<text x="1211.76" y="372.60" font-size="31.50" textLength="42.80" lengthAdjust="spacingAndGlyphs">0%</text>
<text x="1195.29" y="303.74" font-size="31.50" textLength="59.26" lengthAdjust="spacingAndGlyphs">10%</text>
<text x="1195.29" y="234.88" font-size="31.50" textLength="59.26" lengthAdjust="spacingAndGlyphs">20%</text>
<text x="1195.29" y="166.02" font-size="31.50" textLength="59.26" lengthAdjust="spacingAndGlyphs">30%</text>
<text x="1195.29" y="97.16" font-size="31.50" textLength="59.26" lengthAdjust="spacingAndGlyphs">40%</text>
<text x="1195.29" y="28.30" font-size="31.50" textLength="59.26" lengthAdjust="spacingAndGlyphs">50%</text>
<text x="1277.62" y="417.80" font-size="31.50" textLength="17.17" lengthAdjust="spacingAndGlyphs">0</text>
<text x="1378.89" y="417.80" font-size="31.50" textLength="42.91" lengthAdjust="spacingAndGlyphs">0.2</text>
<text x="1492.54" y="417.80" font-size="31.50" textLength="42.91" lengthAdjust="spacingAndGlyphs">0.4</text>
<text x="1606.74" y="417.80" font-size="31.50" textLength="42.91" lengthAdjust="spacingAndGlyphs">0.6</text>
<text x="1720.71" y="417.80" font-size="31.50" textLength="42.91" lengthAdjust="spacingAndGlyphs">0.8</text>
<text transform="translate(1184.00 227.30) rotate(-90)" x="-2.73" y="0" font-size="31.50" textLength="77.59" lengthAdjust="spacingAndGlyphs">MMA</text>
<text x="1411.80" y="459.00" font-size="31.50" textLength="205.94" lengthAdjust="spacingAndGlyphs">Total As (µg/g)</text>
<rect x="1551.50" y="28.00" width="169.90" height="100.70" fill="#fff" stroke="#000" stroke-width="2.5"/>
<rect x="1551.50" y="146.50" width="169.80" height="107.00" fill="#fff" stroke="#000" stroke-width="2.5"/>
<circle cx="1574.5" cy="52.8" r="8.8" fill="none" stroke="#0000f5" stroke-width="2.6"/>
<circle cx="1574.5" cy="103.6" r="9.7" fill="#ff0000"/>
<text x="1593.39" y="62.50" font-size="31.50" textLength="117.75" lengthAdjust="spacingAndGlyphs">Controls</text>
<text x="1593.59" y="112.30" font-size="31.50" textLength="78.51" lengthAdjust="spacingAndGlyphs">Cases</text>
<text x="1576.04" y="190.00" font-size="31.50" textLength="121.03" lengthAdjust="spacingAndGlyphs">ρ = -0.35</text>
<text x="1563.93" y="231.60" font-size="31.50" textLength="145.67" lengthAdjust="spacingAndGlyphs">p &lt; 0.0001</text>
<rect x="1284.30" y="513.90" width="457.10" height="334.10" fill="none" stroke="#000" stroke-width="3.30"/>
<line x1="1284.30" y1="781.18" x2="1294.80" y2="781.18" stroke="#000" stroke-width="3.30" stroke-linecap="butt"/>
<line x1="1284.30" y1="714.36" x2="1294.80" y2="714.36" stroke="#000" stroke-width="3.30" stroke-linecap="butt"/>
<line x1="1284.30" y1="647.54" x2="1294.80" y2="647.54" stroke="#000" stroke-width="3.30" stroke-linecap="butt"/>
<line x1="1284.30" y1="580.72" x2="1294.80" y2="580.72" stroke="#000" stroke-width="3.30" stroke-linecap="butt"/>
<line x1="1398.58" y1="848.00" x2="1398.58" y2="837.50" stroke="#000" stroke-width="3.30" stroke-linecap="butt"/>
<line x1="1512.85" y1="848.00" x2="1512.85" y2="837.50" stroke="#000" stroke-width="3.30" stroke-linecap="butt"/>
<line x1="1627.12" y1="848.00" x2="1627.12" y2="837.50" stroke="#000" stroke-width="3.30" stroke-linecap="butt"/>
<g fill="none" stroke="#0000f5" stroke-width="2.7">
<circle cx="1312.7" cy="543.8" r="8.85"/>
<circle cx="1304.7" cy="623.0" r="8.85"/>
<circle cx="1307.6" cy="661.8" r="8.85"/>
<circle cx="1319.2" cy="674.1" r="8.85"/>
<circle cx="1332.3" cy="685.0" r="8.85"/>
<circle cx="1340.7" cy="677.8" r="8.85"/>
<circle cx="1331.6" cy="697.4" r="8.85"/>
<circle cx="1330.8" cy="709.7" r="8.85"/>
<circle cx="1314.1" cy="717.7" r="8.85"/>
<circle cx="1301.1" cy="713.4" r="8.85"/>
<circle cx="1298.9" cy="723.5" r="8.85"/>
<circle cx="1329.4" cy="725.7" r="8.85"/>
<circle cx="1338.8" cy="737.3" r="8.85"/>
<circle cx="1321.4" cy="708.3" r="8.85"/>
<circle cx="1310.5" cy="711.9" r="8.85"/>
<circle cx="1338.8" cy="749.4" r="8.85"/>
<circle cx="1293.8" cy="762.5" r="8.85"/>
<circle cx="1352.6" cy="761.8" r="8.85"/>
<circle cx="1365.7" cy="772.0" r="8.85"/>
<circle cx="1393.3" cy="798.1" r="8.85"/>
<circle cx="1397.7" cy="818.4" r="8.85"/>
<circle cx="1363.5" cy="803.9" r="8.85"/>
<circle cx="1291.6" cy="838.1" r="8.85"/>
<circle cx="1338.1" cy="849.0" r="8.85"/>
<circle cx="1396.2" cy="851.1" r="8.85"/>
<circle cx="1349.0" cy="792.3" r="8.85"/>
<circle cx="1401.9" cy="818.3" r="8.85"/>
<circle cx="1428.1" cy="835.3" r="8.85"/>
<circle cx="1452.7" cy="811.5" r="8.85"/>
<circle cx="1445.9" cy="832.7" r="8.85"/>
<circle cx="1447.6" cy="837.0" r="8.85"/>
<circle cx="1449.3" cy="841.2" r="8.85"/>
<circle cx="1492.5" cy="828.5" r="8.85"/>
<circle cx="1502.7" cy="825.9" r="8.85"/>
<circle cx="1501.9" cy="843.7" r="8.85"/>
<circle cx="1413.7" cy="845.4" r="8.85"/>
<circle cx="1398.5" cy="848.0" r="8.85"/>
<circle cx="1537.0" cy="838.8" r="8.85"/>
<circle cx="1556.7" cy="839.6" r="8.85"/>
<circle cx="1554.5" cy="846.8" r="8.85"/>
<circle cx="1605.3" cy="843.9" r="8.85"/>
<circle cx="1702.7" cy="835.9" r="8.85"/>
<circle cx="1296.5" cy="845.5" r="8.85"/>
<circle cx="1305.5" cy="845.5" r="8.85"/>
<circle cx="1314.5" cy="845.5" r="8.85"/>
<circle cx="1323.5" cy="845.5" r="8.85"/>
<circle cx="1332.5" cy="845.5" r="8.85"/>
<circle cx="1341.5" cy="845.5" r="8.85"/>
<circle cx="1350.5" cy="845.5" r="8.85"/>
<circle cx="1359.5" cy="845.5" r="8.85"/>
<circle cx="1368.5" cy="845.5" r="8.85"/>
<circle cx="1377.5" cy="845.5" r="8.85"/>
</g><g fill="#ff0000">
<circle cx="1298.0" cy="732.6" r="9.7"/>
<circle cx="1297.1" cy="745.1" r="9.7"/>
<circle cx="1296.9" cy="757.7" r="9.7"/>
<circle cx="1296.9" cy="770.2" r="9.7"/>
<circle cx="1294.4" cy="782.4" r="9.7"/>
<circle cx="1291.8" cy="794.7" r="9.7"/>
<circle cx="1293.3" cy="806.6" r="9.7"/>
<circle cx="1295.7" cy="818.6" r="9.7"/>
<circle cx="1297.3" cy="830.9" r="9.7"/>
<circle cx="1306.0" cy="839.1" r="9.7"/>
<circle cx="1318.0" cy="841.9" r="9.7"/>
<circle cx="1330.6" cy="842.5" r="9.7"/>
<circle cx="1343.1" cy="843.1" r="9.7"/>
<circle cx="1355.7" cy="843.5" r="9.7"/>
<circle cx="1368.3" cy="843.5" r="9.7"/>
<circle cx="1380.7" cy="842.1" r="9.7"/>
<circle cx="1393.0" cy="839.7" r="9.7"/>
<circle cx="1394.6" cy="829.5" r="9.7"/>
<circle cx="1384.3" cy="822.9" r="9.7"/>
<circle cx="1377.3" cy="812.6" r="9.7"/>
<circle cx="1371.1" cy="802.1" r="9.7"/>
<circle cx="1368.0" cy="791.3" r="9.7"/>
<circle cx="1363.3" cy="783.8" r="9.7"/>
<circle cx="1356.4" cy="774.2" r="9.7"/>
<circle cx="1346.1" cy="767.5" r="9.7"/>
<circle cx="1334.7" cy="763.5" r="9.7"/>
<circle cx="1324.0" cy="757.7" r="9.7"/>
<circle cx="1323.4" cy="745.2" r="9.7"/>
<circle cx="1322.4" cy="732.9" r="9.7"/>
<circle cx="1310.4" cy="730.8" r="9.7"/>
<path d="M1298.0 732.6 L1296.9 747.6 L1296.9 772.7 L1296.9 773.4 L1296.8 774.1 L1296.6 774.8 L1293.1 786.7 L1290.7 801.9 L1294.6 809.0 L1294.9 809.6 L1295.1 810.3 L1295.3 810.9 L1295.4 811.6 L1295.5 812.3 L1296.1 828.8 L1300.0 836.1 L1311.0 841.6 L1331.1 842.5 L1352.8 843.5 L1373.7 843.5 L1394.8 839.4 L1396.8 834.8 L1394.3 828.7 L1389.4 827.0 L1388.6 826.6 L1387.9 826.2 L1387.2 825.8 L1386.6 825.2 L1382.2 820.8 L1381.7 820.3 L1381.3 819.7 L1380.9 819.1 L1376.5 811.2 L1376.3 810.7 L1376.0 810.2 L1373.9 804.2 L1369.9 801.2 L1369.3 800.7 L1368.8 800.2 L1368.3 799.6 L1367.9 798.9 L1367.6 798.3 L1367.3 797.6 L1367.1 796.8 L1367.0 796.1 L1366.9 795.3 L1366.9 794.6 L1367.0 793.8 L1367.2 793.1 L1367.4 792.4 L1367.8 791.7 L1368.1 791.1 L1368.6 790.5 L1369.1 789.9 L1370.6 788.4 L1364.8 785.0 L1364.2 784.5 L1363.6 784.1 L1363.0 783.5 L1362.5 782.9 L1362.1 782.2 L1361.7 781.6 L1361.5 780.8 L1361.3 780.1 L1360.6 776.7 L1356.4 774.3 L1350.3 771.5 L1349.7 771.2 L1349.0 770.8 L1348.4 770.3 L1347.9 769.8 L1347.4 769.2 L1344.7 765.7 L1336.6 764.1 L1335.9 763.9 L1328.6 761.7 L1327.9 761.4 L1327.3 761.1 L1326.6 760.7 L1326.0 760.3 L1325.5 759.8 L1325.0 759.2 L1324.5 758.6 L1324.2 758.0 L1323.9 757.3 L1323.6 756.6 L1323.4 755.9 L1323.3 755.2 L1323.3 754.4 L1323.5 736.2 L1322.2 732.4 L1314.4 730.6 L1301.4 731.4 L1298.0 732.6 Z"/>
<circle cx="1326.9" cy="662.5" r="9.7"/>
<circle cx="1357.0" cy="658.2" r="9.7"/>
<circle cx="1363.5" cy="697.4" r="9.7"/>
<circle cx="1304.0" cy="699.6" r="9.7"/>
<circle cx="1311.2" cy="689.4" r="9.7"/>
<circle cx="1304.0" cy="689.4" r="9.7"/>
<circle cx="1320.0" cy="684.0" r="9.7"/>
<circle cx="1334.5" cy="709.0" r="9.7"/>
<circle cx="1347.2" cy="729.3" r="9.7"/>
<circle cx="1351.5" cy="740.2" r="9.7"/>
<circle cx="1343.9" cy="759.9" r="9.7"/>
<circle cx="1413.7" cy="816.6" r="9.7"/>
<circle cx="1418.8" cy="822.5" r="9.7"/>
<circle cx="1425.6" cy="842.0" r="9.7"/>
<circle cx="1398.5" cy="831.0" r="9.7"/>
<circle cx="1399.3" cy="845.4" r="9.7"/>
<circle cx="1390.0" cy="820.8" r="9.7"/>
<circle cx="1411.2" cy="837.0" r="9.7"/>
<circle cx="1468.0" cy="832.7" r="9.7"/>
<circle cx="1479.0" cy="829.3" r="9.7"/>
<circle cx="1508.6" cy="837.8" r="9.7"/>
</g>
<text x="1209.96" y="856.50" font-size="31.50" textLength="42.80" lengthAdjust="spacingAndGlyphs">0%</text>
<text x="1193.49" y="789.68" font-size="31.50" textLength="59.26" lengthAdjust="spacingAndGlyphs">10%</text>
<text x="1193.49" y="722.86" font-size="31.50" textLength="59.26" lengthAdjust="spacingAndGlyphs">20%</text>
<text x="1193.49" y="656.04" font-size="31.50" textLength="59.26" lengthAdjust="spacingAndGlyphs">30%</text>
<text x="1193.49" y="589.22" font-size="31.50" textLength="59.26" lengthAdjust="spacingAndGlyphs">40%</text>
<text x="1193.49" y="522.40" font-size="31.50" textLength="59.26" lengthAdjust="spacingAndGlyphs">50%</text>
<text x="1275.72" y="901.40" font-size="31.50" textLength="17.17" lengthAdjust="spacingAndGlyphs">0</text>
<text x="1377.29" y="901.40" font-size="31.50" textLength="42.91" lengthAdjust="spacingAndGlyphs">0.2</text>
<text x="1491.24" y="901.40" font-size="31.50" textLength="42.91" lengthAdjust="spacingAndGlyphs">0.4</text>
<text x="1605.74" y="901.40" font-size="31.50" textLength="42.91" lengthAdjust="spacingAndGlyphs">0.6</text>
<text x="1720.01" y="901.40" font-size="31.50" textLength="42.91" lengthAdjust="spacingAndGlyphs">0.8</text>
<text transform="translate(1184.00 713.70) rotate(-90)" x="-2.57" y="0" font-size="31.50" textLength="69.53" lengthAdjust="spacingAndGlyphs">DMA</text>
<text x="1411.80" y="946.90" font-size="31.50" textLength="204.02" lengthAdjust="spacingAndGlyphs">Total As (µg/g)</text>
<rect x="1534.10" y="527.40" width="183.40" height="109.40" fill="#fff" stroke="#000" stroke-width="2.5"/>
<rect x="1534.10" y="652.20" width="182.20" height="106.90" fill="#fff" stroke="#000" stroke-width="2.5"/>
<circle cx="1564.0" cy="554.5" r="8.8" fill="none" stroke="#0000f5" stroke-width="2.6"/>
<circle cx="1564.0" cy="609.6" r="9.7" fill="#ff0000"/>
<text x="1582.10" y="564.20" font-size="31.50" textLength="117.44" lengthAdjust="spacingAndGlyphs">Controls</text>
<text x="1582.30" y="618.10" font-size="31.50" textLength="78.09" lengthAdjust="spacingAndGlyphs">Cases</text>
<text x="1568.30" y="696.20" font-size="31.50" textLength="113.83" lengthAdjust="spacingAndGlyphs"><tspan font-style="italic">r</tspan> = -0.27</text>
<text x="1554.25" y="737.90" font-size="31.50" textLength="144.13" lengthAdjust="spacingAndGlyphs"><tspan font-style="italic">p</tspan> &lt; 0.0001</text>
<rect x="1283.00" y="994.30" width="454.90" height="334.10" fill="none" stroke="#000" stroke-width="3.30"/>
<line x1="1283.00" y1="1286.64" x2="1293.50" y2="1286.64" stroke="#000" stroke-width="3.30" stroke-linecap="butt"/>
<line x1="1283.00" y1="1244.88" x2="1293.50" y2="1244.88" stroke="#000" stroke-width="3.30" stroke-linecap="butt"/>
<line x1="1283.00" y1="1203.11" x2="1293.50" y2="1203.11" stroke="#000" stroke-width="3.30" stroke-linecap="butt"/>
<line x1="1283.00" y1="1161.35" x2="1293.50" y2="1161.35" stroke="#000" stroke-width="3.30" stroke-linecap="butt"/>
<line x1="1283.00" y1="1119.59" x2="1293.50" y2="1119.59" stroke="#000" stroke-width="3.30" stroke-linecap="butt"/>
<line x1="1283.00" y1="1077.83" x2="1293.50" y2="1077.83" stroke="#000" stroke-width="3.30" stroke-linecap="butt"/>
<line x1="1283.00" y1="1036.06" x2="1293.50" y2="1036.06" stroke="#000" stroke-width="3.30" stroke-linecap="butt"/>
<line x1="1396.72" y1="1328.40" x2="1396.72" y2="1317.90" stroke="#000" stroke-width="3.30" stroke-linecap="butt"/>
<line x1="1510.45" y1="1328.40" x2="1510.45" y2="1317.90" stroke="#000" stroke-width="3.30" stroke-linecap="butt"/>
<line x1="1624.18" y1="1328.40" x2="1624.18" y2="1317.90" stroke="#000" stroke-width="3.30" stroke-linecap="butt"/>
<g fill="none" stroke="#0000f5" stroke-width="2.7">
<circle cx="1290.9" cy="1021.3" r="8.85"/>
<circle cx="1301.8" cy="1012.6" r="8.85"/>
<circle cx="1366.4" cy="1004.6" r="8.85"/>
<circle cx="1370.1" cy="1025.7" r="8.85"/>
<circle cx="1376.6" cy="1027.1" r="8.85"/>
<circle cx="1384.6" cy="1019.9" r="8.85"/>
<circle cx="1393.3" cy="1022.8" r="8.85"/>
<circle cx="1393.3" cy="1037.3" r="8.85"/>
<circle cx="1385.3" cy="1032.9" r="8.85"/>
<circle cx="1383.9" cy="1059.8" r="8.85"/>
<circle cx="1361.4" cy="1066.4" r="8.85"/>
<circle cx="1349.0" cy="1072.2" r="8.85"/>
<circle cx="1287.3" cy="1085.2" r="8.85"/>
<circle cx="1332.3" cy="1088.1" r="8.85"/>
<circle cx="1289.4" cy="1119.8" r="8.85"/>
<circle cx="1335.2" cy="1097.3" r="8.85"/>
<circle cx="1339.6" cy="1119.1" r="8.85"/>
<circle cx="1291.6" cy="1141.9" r="8.85"/>
<circle cx="1296.7" cy="1140.1" r="8.85"/>
<circle cx="1305.4" cy="1148.1" r="8.85"/>
<circle cx="1319.2" cy="1130.7" r="8.85"/>
<circle cx="1333.0" cy="1140.8" r="8.85"/>
<circle cx="1331.2" cy="1158.6" r="8.85"/>
<circle cx="1301.1" cy="1166.3" r="8.85"/>
<circle cx="1303.6" cy="1178.6" r="8.85"/>
<circle cx="1402.6" cy="1001.6" r="8.85"/>
<circle cx="1413.2" cy="1013.2" r="8.85"/>
<circle cx="1424.4" cy="1016.6" r="8.85"/>
<circle cx="1400.7" cy="1024.4" r="8.85"/>
<circle cx="1414.2" cy="1030.7" r="8.85"/>
<circle cx="1393.9" cy="1037.5" r="8.85"/>
<circle cx="1445.7" cy="1009.4" r="8.85"/>
<circle cx="1447.1" cy="1023.9" r="8.85"/>
<circle cx="1451.0" cy="1038.4" r="8.85"/>
<circle cx="1500.9" cy="1000.2" r="8.85"/>
<circle cx="1490.7" cy="1013.2" r="8.85"/>
<circle cx="1501.4" cy="1028.7" r="8.85"/>
<circle cx="1500.9" cy="1048.1" r="8.85"/>
<circle cx="1534.8" cy="1037.5" r="8.85"/>
<circle cx="1552.1" cy="1000.1" r="8.85"/>
<circle cx="1553.3" cy="1001.3" r="8.85"/>
<circle cx="1603.0" cy="1006.2" r="8.85"/>
<circle cx="1699.8" cy="1011.6" r="8.85"/>
<circle cx="1311.7" cy="1287.3" r="8.85"/>
</g><g fill="#ff0000">
<circle cx="1311.2" cy="1008.8" r="9.7"/>
<circle cx="1304.2" cy="1018.9" r="9.7"/>
<circle cx="1299.1" cy="1030.1" r="9.7"/>
<circle cx="1294.9" cy="1041.7" r="9.7"/>
<circle cx="1291.7" cy="1053.6" r="9.7"/>
<circle cx="1293.7" cy="1065.2" r="9.7"/>
<circle cx="1297.4" cy="1076.6" r="9.7"/>
<circle cx="1297.0" cy="1088.9" r="9.7"/>
<circle cx="1291.9" cy="1099.8" r="9.7"/>
<circle cx="1295.2" cy="1111.5" r="9.7"/>
<circle cx="1299.6" cy="1123.0" r="9.7"/>
<circle cx="1307.3" cy="1128.4" r="9.7"/>
<circle cx="1315.8" cy="1119.6" r="9.7"/>
<circle cx="1321.4" cy="1108.6" r="9.7"/>
<circle cx="1324.8" cy="1097.1" r="9.7"/>
<circle cx="1321.8" cy="1085.4" r="9.7"/>
<circle cx="1321.7" cy="1073.9" r="9.7"/>
<circle cx="1329.8" cy="1065.5" r="9.7"/>
<circle cx="1342.0" cy="1063.6" r="9.7"/>
<circle cx="1354.3" cy="1063.2" r="9.7"/>
<circle cx="1366.3" cy="1062.2" r="9.7"/>
<circle cx="1376.0" cy="1054.6" r="9.7"/>
<circle cx="1377.4" cy="1046.2" r="9.7"/>
<circle cx="1366.0" cy="1041.6" r="9.7"/>
<circle cx="1356.4" cy="1034.6" r="9.7"/>
<circle cx="1352.6" cy="1022.8" r="9.7"/>
<circle cx="1358.6" cy="1013.2" r="9.7"/>
<circle cx="1360.2" cy="1009.5" r="9.7"/>
<circle cx="1348.0" cy="1007.9" r="9.7"/>
<circle cx="1335.7" cy="1007.0" r="9.7"/>
<circle cx="1323.4" cy="1007.3" r="9.7"/>
<circle cx="1367.2" cy="1010.3" r="9.7"/>
<circle cx="1379.9" cy="1009.5" r="9.7"/>
<circle cx="1391.3" cy="1007.2" r="9.7"/>
<circle cx="1379.2" cy="1006.3" r="9.7"/>
<path d="M1311.2 1008.8 L1302.7 1021.3 L1295.8 1038.2 L1291.1 1055.7 L1291.7 1062.3 L1295.6 1068.0 L1296.0 1068.6 L1296.3 1069.3 L1296.6 1070.0 L1296.7 1070.7 L1296.9 1071.4 L1297.7 1079.2 L1297.7 1079.9 L1297.7 1080.6 L1296.9 1090.6 L1296.8 1091.4 L1296.6 1092.1 L1296.3 1092.9 L1296.0 1093.6 L1295.6 1094.2 L1291.9 1099.6 L1291.9 1103.1 L1295.7 1112.6 L1295.7 1112.7 L1301.1 1126.9 L1303.8 1130.2 L1307.0 1128.7 L1314.7 1121.6 L1320.5 1110.7 L1324.8 1101.4 L1324.8 1091.7 L1320.4 1082.7 L1320.2 1082.0 L1319.9 1081.3 L1319.8 1080.6 L1319.7 1079.9 L1319.7 1079.2 L1319.8 1078.5 L1319.9 1077.8 L1320.1 1077.1 L1320.3 1076.4 L1320.6 1075.8 L1324.2 1069.3 L1324.6 1068.6 L1325.1 1068.0 L1325.6 1067.5 L1326.2 1067.0 L1326.8 1066.5 L1327.5 1066.2 L1328.2 1065.9 L1328.9 1065.6 L1329.7 1065.5 L1344.3 1063.3 L1344.8 1063.2 L1345.4 1063.2 L1364.9 1063.2 L1371.9 1058.3 L1379.4 1051.4 L1381.0 1048.7 L1379.0 1046.8 L1372.0 1044.4 L1371.2 1044.1 L1360.3 1039.0 L1359.6 1038.6 L1359.0 1038.2 L1358.4 1037.7 L1357.9 1037.2 L1357.4 1036.6 L1357.0 1035.9 L1356.7 1035.3 L1356.4 1034.6 L1352.8 1023.7 L1352.6 1022.9 L1352.5 1022.2 L1352.4 1021.4 L1352.4 1020.7 L1352.5 1019.9 L1352.7 1019.2 L1353.0 1018.5 L1353.3 1017.8 L1353.7 1017.1 L1354.1 1016.5 L1354.6 1016.0 L1355.2 1015.4 L1355.8 1015.0 L1360.9 1011.7 L1361.6 1011.3 L1362.3 1011.0 L1363.0 1010.8 L1363.7 1010.6 L1364.5 1010.5 L1365.2 1010.5 L1364.8 1010.4 L1364.1 1010.3 L1355.2 1008.4 L1330.2 1006.5 L1311.2 1008.8 Z"/>
<path d="M1367.2 1010.3 L1379.3 1009.5 L1391.5 1008.0 L1391.6 1007.8 L1391.1 1006.7 L1382.3 1005.2 L1368.1 1010.1 L1367.5 1010.3 L1367.2 1010.3 Z"/>
<circle cx="1381.7" cy="999.5" r="9.7"/>
<circle cx="1396.2" cy="1005.3" r="9.7"/>
<circle cx="1346.1" cy="1085.2" r="9.7"/>
<circle cx="1345.4" cy="1097.6" r="9.7"/>
<circle cx="1342.5" cy="1090.0" r="9.7"/>
<circle cx="1362.1" cy="1114.3" r="9.7"/>
<circle cx="1355.5" cy="1138.3" r="9.7"/>
<circle cx="1333.8" cy="1125.6" r="9.7"/>
<circle cx="1313.4" cy="1148.8" r="9.7"/>
<circle cx="1325.0" cy="1148.8" r="9.7"/>
<circle cx="1302.5" cy="1131.4" r="9.7"/>
<circle cx="1397.3" cy="1006.0" r="9.7"/>
<circle cx="1422.9" cy="1002.6" r="9.7"/>
<circle cx="1466.5" cy="1008.4" r="9.7"/>
<circle cx="1477.2" cy="1022.4" r="9.7"/>
<circle cx="1506.7" cy="1013.2" r="9.7"/>
<circle cx="1418.1" cy="1040.8" r="9.7"/>
<circle cx="1412.8" cy="1049.6" r="9.7"/>
<circle cx="1411.8" cy="1070.4" r="9.7"/>
<circle cx="1390.0" cy="1048.1" r="9.7"/>
</g>
<text x="1192.79" y="1338.00" font-size="31.50" textLength="59.26" lengthAdjust="spacingAndGlyphs">20%</text>
<text x="1192.79" y="1296.24" font-size="31.50" textLength="59.26" lengthAdjust="spacingAndGlyphs">30%</text>
<text x="1192.79" y="1254.47" font-size="31.50" textLength="59.26" lengthAdjust="spacingAndGlyphs">40%</text>
<text x="1192.79" y="1212.71" font-size="31.50" textLength="59.26" lengthAdjust="spacingAndGlyphs">50%</text>
<text x="1192.79" y="1170.95" font-size="31.50" textLength="59.26" lengthAdjust="spacingAndGlyphs">60%</text>
<text x="1192.79" y="1129.19" font-size="31.50" textLength="59.26" lengthAdjust="spacingAndGlyphs">70%</text>
<text x="1192.79" y="1087.42" font-size="31.50" textLength="59.26" lengthAdjust="spacingAndGlyphs">80%</text>
<text x="1192.79" y="1045.66" font-size="31.50" textLength="59.26" lengthAdjust="spacingAndGlyphs">90%</text>
<text x="1176.32" y="1003.90" font-size="31.50" textLength="75.73" lengthAdjust="spacingAndGlyphs">100%</text>
<text x="1274.42" y="1382.30" font-size="31.50" textLength="17.17" lengthAdjust="spacingAndGlyphs">0</text>
<text x="1375.44" y="1382.30" font-size="31.50" textLength="42.91" lengthAdjust="spacingAndGlyphs">0.2</text>
<text x="1488.84" y="1382.30" font-size="31.50" textLength="42.91" lengthAdjust="spacingAndGlyphs">0.4</text>
<text x="1602.79" y="1382.30" font-size="31.50" textLength="42.91" lengthAdjust="spacingAndGlyphs">0.6</text>
<text x="1716.51" y="1382.30" font-size="31.50" textLength="42.91" lengthAdjust="spacingAndGlyphs">0.8</text>
<text transform="translate(1184.10 1179.50) rotate(-90)" x="-1.92" y="0" font-size="31.50" textLength="39.96" lengthAdjust="spacingAndGlyphs">iAs</text>
<text x="1409.60" y="1434.30" font-size="31.50" textLength="205.03" lengthAdjust="spacingAndGlyphs">Total As (µg/g)</text>
<rect x="1537.10" y="1070.30" width="169.70" height="106.20" fill="#fff" stroke="#000" stroke-width="2.5"/>
<rect x="1539.50" y="1183.20" width="169.30" height="111.70" fill="#fff" stroke="#000" stroke-width="2.5"/>
<circle cx="1560.4" cy="1096.3" r="8.8" fill="none" stroke="#0000f5" stroke-width="2.6"/>
<circle cx="1560.4" cy="1149.6" r="9.7" fill="#ff0000"/>
<text x="1578.80" y="1106.20" font-size="31.50" textLength="117.44" lengthAdjust="spacingAndGlyphs">Controls</text>
<text x="1579.00" y="1159.00" font-size="31.50" textLength="77.99" lengthAdjust="spacingAndGlyphs">Cases</text>
<text x="1572.90" y="1227.10" font-size="31.50" textLength="103.64" lengthAdjust="spacingAndGlyphs"><tspan font-style="italic">r</tspan> = 0.39</text>
<text x="1553.35" y="1268.20" font-size="31.50" textLength="144.13" lengthAdjust="spacingAndGlyphs"><tspan font-style="italic">p</tspan> &lt; 0.0001</text>
<rect x="1290.20" y="1476.40" width="447.90" height="337.80" fill="none" stroke="#000" stroke-width="3.30"/>
<line x1="1290.20" y1="1746.64" x2="1300.70" y2="1746.64" stroke="#000" stroke-width="3.30" stroke-linecap="butt"/>
<line x1="1290.20" y1="1679.08" x2="1300.70" y2="1679.08" stroke="#000" stroke-width="3.30" stroke-linecap="butt"/>
<line x1="1290.20" y1="1611.52" x2="1300.70" y2="1611.52" stroke="#000" stroke-width="3.30" stroke-linecap="butt"/>
<line x1="1290.20" y1="1543.96" x2="1300.70" y2="1543.96" stroke="#000" stroke-width="3.30" stroke-linecap="butt"/>
<line x1="1402.17" y1="1814.20" x2="1402.17" y2="1803.70" stroke="#000" stroke-width="3.30" stroke-linecap="butt"/>
<line x1="1514.15" y1="1814.20" x2="1514.15" y2="1803.70" stroke="#000" stroke-width="3.30" stroke-linecap="butt"/>
<line x1="1626.12" y1="1814.20" x2="1626.12" y2="1803.70" stroke="#000" stroke-width="3.30" stroke-linecap="butt"/>
<g fill="none" stroke="#0000f5" stroke-width="2.7">
<circle cx="1318.0" cy="1531.1" r="8.85"/>
<circle cx="1307.5" cy="1608.4" r="8.85"/>
<circle cx="1298.8" cy="1667.4" r="8.85"/>
<circle cx="1320.6" cy="1661.2" r="8.85"/>
<circle cx="1316.2" cy="1687.4" r="8.85"/>
<circle cx="1317.0" cy="1692.5" r="8.85"/>
<circle cx="1296.6" cy="1701.5" r="8.85"/>
<circle cx="1303.9" cy="1698.3" r="8.85"/>
<circle cx="1311.1" cy="1699.7" r="8.85"/>
<circle cx="1306.8" cy="1716.4" r="8.85"/>
<circle cx="1327.9" cy="1715.7" r="8.85"/>
<circle cx="1336.6" cy="1713.5" r="8.85"/>
<circle cx="1338.0" cy="1723.7" r="8.85"/>
<circle cx="1340.2" cy="1727.3" r="8.85"/>
<circle cx="1335.8" cy="1735.3" r="8.85"/>
<circle cx="1308.2" cy="1731.7" r="8.85"/>
<circle cx="1295.9" cy="1724.4" r="8.85"/>
<circle cx="1306.8" cy="1717.9" r="8.85"/>
<circle cx="1337.3" cy="1728.1" r="8.85"/>
<circle cx="1335.1" cy="1745.5" r="8.85"/>
<circle cx="1298.1" cy="1750.6" r="8.85"/>
<circle cx="1357.6" cy="1773.1" r="8.85"/>
<circle cx="1387.4" cy="1768.0" r="8.85"/>
<circle cx="1400.5" cy="1789.1" r="8.85"/>
<circle cx="1394.0" cy="1796.4" r="8.85"/>
<circle cx="1371.4" cy="1815.2" r="8.85"/>
<circle cx="1299.5" cy="1798.5" r="8.85"/>
<circle cx="1401.9" cy="1788.4" r="8.85"/>
<circle cx="1405.8" cy="1798.1" r="8.85"/>
<circle cx="1416.5" cy="1806.8" r="8.85"/>
<circle cx="1431.0" cy="1800.0" r="8.85"/>
<circle cx="1451.3" cy="1792.3" r="8.85"/>
<circle cx="1454.2" cy="1794.2" r="8.85"/>
<circle cx="1450.4" cy="1806.8" r="8.85"/>
<circle cx="1504.1" cy="1773.9" r="8.85"/>
<circle cx="1504.1" cy="1786.5" r="8.85"/>
<circle cx="1505.6" cy="1796.2" r="8.85"/>
<circle cx="1492.0" cy="1806.8" r="8.85"/>
<circle cx="1504.6" cy="1811.7" r="8.85"/>
<circle cx="1537.5" cy="1779.7" r="8.85"/>
<circle cx="1555.0" cy="1809.7" r="8.85"/>
<circle cx="1556.9" cy="1811.7" r="8.85"/>
<circle cx="1605.0" cy="1805.5" r="8.85"/>
<circle cx="1700.5" cy="1805.5" r="8.85"/>
<circle cx="1302.5" cy="1809.5" r="8.85"/>
<circle cx="1311.5" cy="1809.5" r="8.85"/>
<circle cx="1320.5" cy="1809.5" r="8.85"/>
<circle cx="1329.5" cy="1809.5" r="8.85"/>
<circle cx="1338.5" cy="1809.5" r="8.85"/>
<circle cx="1347.5" cy="1809.5" r="8.85"/>
<circle cx="1356.5" cy="1809.5" r="8.85"/>
<circle cx="1365.5" cy="1809.5" r="8.85"/>
<circle cx="1374.5" cy="1809.5" r="8.85"/>
<circle cx="1383.5" cy="1809.5" r="8.85"/>
</g><g fill="#ff0000">
<circle cx="1300.3" cy="1737.9" r="9.7"/>
<circle cx="1302.7" cy="1750.3" r="9.7"/>
<circle cx="1304.3" cy="1762.6" r="9.7"/>
<circle cx="1296.6" cy="1771.9" r="9.7"/>
<circle cx="1299.7" cy="1784.0" r="9.7"/>
<circle cx="1304.8" cy="1795.6" r="9.7"/>
<circle cx="1309.8" cy="1807.1" r="9.7"/>
<circle cx="1321.5" cy="1811.3" r="9.7"/>
<circle cx="1334.0" cy="1809.4" r="9.7"/>
<circle cx="1346.6" cy="1808.7" r="9.7"/>
<circle cx="1359.2" cy="1808.0" r="9.7"/>
<circle cx="1371.8" cy="1807.7" r="9.7"/>
<circle cx="1384.1" cy="1809.5" r="9.7"/>
<circle cx="1396.2" cy="1810.9" r="9.7"/>
<circle cx="1389.5" cy="1808.2" r="9.7"/>
<circle cx="1377.1" cy="1805.8" r="9.7"/>
<circle cx="1374.9" cy="1794.8" r="9.7"/>
<circle cx="1384.0" cy="1786.1" r="9.7"/>
<circle cx="1383.2" cy="1779.8" r="9.7"/>
<circle cx="1371.0" cy="1782.7" r="9.7"/>
<circle cx="1359.3" cy="1778.2" r="9.7"/>
<circle cx="1349.2" cy="1770.6" r="9.7"/>
<circle cx="1340.9" cy="1761.3" r="9.7"/>
<circle cx="1331.2" cy="1753.5" r="9.7"/>
<circle cx="1322.0" cy="1745.0" r="9.7"/>
<circle cx="1312.1" cy="1738.8" r="9.7"/>
<path d="M1300.3 1737.9 L1301.8 1746.2 L1304.6 1758.3 L1304.7 1759.0 L1304.8 1759.8 L1304.8 1760.5 L1304.7 1761.3 L1304.5 1762.0 L1304.3 1762.7 L1304.0 1763.4 L1303.6 1764.1 L1303.2 1764.7 L1302.7 1765.2 L1302.1 1765.8 L1301.5 1766.2 L1297.4 1769.0 L1296.4 1772.9 L1300.0 1785.0 L1306.4 1799.1 L1306.5 1799.5 L1309.4 1806.8 L1313.4 1809.7 L1321.5 1811.3 L1334.7 1809.3 L1335.4 1809.2 L1350.0 1808.5 L1364.5 1807.7 L1364.9 1807.7 L1378.0 1807.7 L1378.7 1807.7 L1379.3 1807.8 L1380.0 1808.0 L1380.6 1808.2 L1389.5 1811.4 L1395.6 1811.5 L1396.2 1811.0 L1397.1 1806.4 L1396.8 1806.1 L1392.1 1807.8 L1391.4 1808.0 L1390.7 1808.1 L1389.9 1808.2 L1389.2 1808.2 L1388.4 1808.1 L1379.7 1806.7 L1379.0 1806.6 L1378.3 1806.3 L1377.6 1806.1 L1377.0 1805.7 L1376.4 1805.3 L1375.8 1804.8 L1375.3 1804.3 L1374.9 1803.8 L1374.5 1803.1 L1374.1 1802.5 L1373.8 1801.8 L1373.6 1801.1 L1373.5 1800.4 L1373.4 1799.7 L1373.4 1799.0 L1373.5 1798.3 L1373.6 1797.5 L1373.8 1796.8 L1374.1 1796.2 L1374.4 1795.5 L1374.8 1794.9 L1375.3 1794.3 L1375.8 1793.8 L1384.7 1785.5 L1388.1 1780.8 L1388.0 1780.2 L1385.9 1779.0 L1374.4 1782.5 L1373.7 1782.7 L1372.9 1782.8 L1372.2 1782.8 L1371.5 1782.8 L1370.7 1782.7 L1370.0 1782.5 L1362.7 1780.3 L1362.1 1780.0 L1361.4 1779.7 L1360.8 1779.4 L1360.2 1779.0 L1353.1 1773.3 L1346.1 1768.3 L1345.5 1767.9 L1345.0 1767.4 L1344.5 1766.8 L1344.1 1766.2 L1339.8 1759.5 L1333.7 1755.3 L1326.5 1750.3 L1325.9 1749.8 L1325.4 1749.3 L1324.9 1748.7 L1320.3 1742.7 L1314.9 1738.3 L1310.3 1739.1 L1309.5 1739.2 L1308.7 1739.2 L1307.9 1739.1 L1307.1 1739.0 L1306.3 1738.7 L1301.4 1736.8 L1300.3 1737.9 Z"/>
<circle cx="1416.9" cy="1758.4" r="9.7"/>
<circle cx="1417.4" cy="1769.1" r="9.7"/>
<circle cx="1422.8" cy="1786.0" r="9.7"/>
<circle cx="1427.6" cy="1808.8" r="9.7"/>
<circle cx="1402.9" cy="1807.8" r="9.7"/>
<circle cx="1470.7" cy="1809.7" r="9.7"/>
<circle cx="1480.9" cy="1799.1" r="9.7"/>
<circle cx="1509.9" cy="1803.0" r="9.7"/>
</g>
<text x="1214.44" y="1823.80" font-size="31.50" textLength="43.79" lengthAdjust="spacingAndGlyphs">0.0</text>
<text x="1214.79" y="1756.24" font-size="31.50" textLength="43.79" lengthAdjust="spacingAndGlyphs">0.2</text>
<text x="1214.13" y="1688.68" font-size="31.50" textLength="43.79" lengthAdjust="spacingAndGlyphs">0.4</text>
<text x="1214.59" y="1621.12" font-size="31.50" textLength="43.79" lengthAdjust="spacingAndGlyphs">0.6</text>
<text x="1214.58" y="1553.56" font-size="31.50" textLength="43.79" lengthAdjust="spacingAndGlyphs">0.8</text>
<text x="1214.44" y="1486.00" font-size="31.50" textLength="43.79" lengthAdjust="spacingAndGlyphs">1.0</text>
<text x="1281.62" y="1868.00" font-size="31.50" textLength="17.17" lengthAdjust="spacingAndGlyphs">0</text>
<text x="1380.89" y="1868.00" font-size="31.50" textLength="42.91" lengthAdjust="spacingAndGlyphs">0.2</text>
<text x="1492.54" y="1868.00" font-size="31.50" textLength="42.91" lengthAdjust="spacingAndGlyphs">0.4</text>
<text x="1604.74" y="1868.00" font-size="31.50" textLength="42.91" lengthAdjust="spacingAndGlyphs">0.6</text>
<text x="1716.71" y="1868.00" font-size="31.50" textLength="42.91" lengthAdjust="spacingAndGlyphs">0.8</text>
<text transform="translate(1194.80 1670.80) rotate(-90)" x="-2.56" y="0" font-size="31.50" textLength="55.44" lengthAdjust="spacingAndGlyphs">PMI</text>
<text x="1412.70" y="1918.70" font-size="31.50" textLength="205.03" lengthAdjust="spacingAndGlyphs">Total As (µg/g)</text>
<rect x="1531.50" y="1491.90" width="179.20" height="103.70" fill="#fff" stroke="#000" stroke-width="2.5"/>
<rect x="1530.70" y="1607.10" width="179.40" height="107.20" fill="#fff" stroke="#000" stroke-width="2.5"/>
<circle cx="1559.6" cy="1517.3" r="8.8" fill="none" stroke="#0000f5" stroke-width="2.6"/>
<circle cx="1559.6" cy="1569.0" r="9.7" fill="#ff0000"/>
<text x="1578.00" y="1526.60" font-size="31.50" textLength="117.44" lengthAdjust="spacingAndGlyphs">Controls</text>
<text x="1578.21" y="1578.70" font-size="31.50" textLength="77.79" lengthAdjust="spacingAndGlyphs">Cases</text>
<text x="1563.29" y="1650.90" font-size="31.50" textLength="114.39" lengthAdjust="spacingAndGlyphs"><tspan font-style="italic">r</tspan> = -0.31</text>
<text x="1549.25" y="1692.10" font-size="31.50" textLength="144.13" lengthAdjust="spacingAndGlyphs"><tspan font-style="italic">p</tspan> &lt; 0.0001</text>
<rect x="1290.50" y="1965.50" width="447.60" height="343.20" fill="none" stroke="#000" stroke-width="3.30"/>
<line x1="1290.50" y1="2251.50" x2="1301.00" y2="2251.50" stroke="#000" stroke-width="3.30" stroke-linecap="butt"/>
<line x1="1290.50" y1="2194.30" x2="1301.00" y2="2194.30" stroke="#000" stroke-width="3.30" stroke-linecap="butt"/>
<line x1="1290.50" y1="2137.10" x2="1301.00" y2="2137.10" stroke="#000" stroke-width="3.30" stroke-linecap="butt"/>
<line x1="1290.50" y1="2079.90" x2="1301.00" y2="2079.90" stroke="#000" stroke-width="3.30" stroke-linecap="butt"/>
<line x1="1290.50" y1="2022.70" x2="1301.00" y2="2022.70" stroke="#000" stroke-width="3.30" stroke-linecap="butt"/>
<line x1="1402.40" y1="2308.70" x2="1402.40" y2="2298.20" stroke="#000" stroke-width="3.30" stroke-linecap="butt"/>
<line x1="1514.30" y1="2308.70" x2="1514.30" y2="2298.20" stroke="#000" stroke-width="3.30" stroke-linecap="butt"/>
<line x1="1626.20" y1="2308.70" x2="1626.20" y2="2298.20" stroke="#000" stroke-width="3.30" stroke-linecap="butt"/>
<g fill="none" stroke="#0000f5" stroke-width="2.7">
<circle cx="1344.7" cy="1996.5" r="8.85"/>
<circle cx="1334.0" cy="2029.0" r="8.85"/>
<circle cx="1343.5" cy="2067.3" r="8.85"/>
<circle cx="1343.9" cy="2074.5" r="8.85"/>
<circle cx="1305.8" cy="2087.2" r="8.85"/>
<circle cx="1325.3" cy="2095.3" r="8.85"/>
<circle cx="1310.4" cy="2102.5" r="8.85"/>
<circle cx="1371.4" cy="2096.9" r="8.85"/>
<circle cx="1328.2" cy="2119.8" r="8.85"/>
<circle cx="1328.6" cy="2123.1" r="8.85"/>
<circle cx="1309.6" cy="2133.7" r="8.85"/>
<circle cx="1339.2" cy="2148.6" r="8.85"/>
<circle cx="1397.7" cy="2150.7" r="8.85"/>
<circle cx="1306.2" cy="2177.8" r="8.85"/>
<circle cx="1314.7" cy="2174.4" r="8.85"/>
<circle cx="1407.0" cy="2188.8" r="8.85"/>
<circle cx="1355.3" cy="2189.7" r="8.85"/>
<circle cx="1371.4" cy="2194.7" r="8.85"/>
<circle cx="1382.5" cy="2212.5" r="8.85"/>
<circle cx="1407.0" cy="2229.5" r="8.85"/>
<circle cx="1388.4" cy="2237.1" r="8.85"/>
<circle cx="1393.5" cy="2243.9" r="8.85"/>
<circle cx="1359.6" cy="2245.6" r="8.85"/>
<circle cx="1359.6" cy="2215.9" r="8.85"/>
<circle cx="1305.3" cy="2203.2" r="8.85"/>
<circle cx="1417.2" cy="2250.0" r="8.85"/>
<circle cx="1407.5" cy="2230.2" r="8.85"/>
<circle cx="1388.0" cy="2236.9" r="8.85"/>
<circle cx="1394.3" cy="2245.0" r="8.85"/>
<circle cx="1416.4" cy="2253.0" r="8.85"/>
<circle cx="1418.9" cy="2259.8" r="8.85"/>
<circle cx="1360.4" cy="2245.4" r="8.85"/>
<circle cx="1361.3" cy="2256.4" r="8.85"/>
<circle cx="1383.3" cy="2261.5" r="8.85"/>
<circle cx="1403.6" cy="2279.3" r="8.85"/>
<circle cx="1403.6" cy="2291.2" r="8.85"/>
<circle cx="1402.0" cy="2307.3" r="8.85"/>
<circle cx="1383.3" cy="2296.3" r="8.85"/>
<circle cx="1369.7" cy="2298.8" r="8.85"/>
<circle cx="1366.4" cy="2304.7" r="8.85"/>
<circle cx="1354.5" cy="2307.3" r="8.85"/>
<circle cx="1340.1" cy="2308.1" r="8.85"/>
<circle cx="1330.8" cy="2308.1" r="8.85"/>
<circle cx="1306.2" cy="2307.3" r="8.85"/>
<circle cx="1296.0" cy="2294.6" r="8.85"/>
<circle cx="1416.9" cy="2254.1" r="8.85"/>
<circle cx="1419.9" cy="2260.9" r="8.85"/>
<circle cx="1448.4" cy="2245.9" r="8.85"/>
<circle cx="1454.2" cy="2248.8" r="8.85"/>
<circle cx="1450.4" cy="2257.5" r="8.85"/>
<circle cx="1494.4" cy="2214.4" r="8.85"/>
<circle cx="1504.1" cy="2260.4" r="8.85"/>
<circle cx="1504.6" cy="2270.1" r="8.85"/>
<circle cx="1503.6" cy="2296.2" r="8.85"/>
<circle cx="1503.6" cy="2302.5" r="8.85"/>
<circle cx="1451.3" cy="2300.1" r="8.85"/>
<circle cx="1537.0" cy="2301.6" r="8.85"/>
<circle cx="1555.0" cy="2299.6" r="8.85"/>
<circle cx="1555.9" cy="2203.3" r="8.85"/>
<circle cx="1429.1" cy="2287.5" r="8.85"/>
<circle cx="1403.9" cy="2277.8" r="8.85"/>
<circle cx="1403.9" cy="2293.3" r="8.85"/>
<circle cx="1402.9" cy="2308.8" r="8.85"/>
<circle cx="1604.8" cy="2294.5" r="8.85"/>
<circle cx="1699.7" cy="2266.2" r="8.85"/>
</g><g fill="#ff0000">
<circle cx="1303.2" cy="2235.0" r="9.7"/>
<circle cx="1302.7" cy="2247.4" r="9.7"/>
<circle cx="1302.7" cy="2259.9" r="9.7"/>
<circle cx="1297.7" cy="2271.1" r="9.7"/>
<circle cx="1300.7" cy="2282.4" r="9.7"/>
<circle cx="1307.1" cy="2293.2" r="9.7"/>
<circle cx="1313.4" cy="2302.8" r="9.7"/>
<circle cx="1325.8" cy="2303.8" r="9.7"/>
<circle cx="1338.2" cy="2303.3" r="9.7"/>
<circle cx="1350.7" cy="2302.3" r="9.7"/>
<circle cx="1356.6" cy="2292.4" r="9.7"/>
<circle cx="1367.2" cy="2286.1" r="9.7"/>
<circle cx="1379.1" cy="2284.6" r="9.7"/>
<circle cx="1387.7" cy="2282.1" r="9.7"/>
<circle cx="1379.5" cy="2275.0" r="9.7"/>
<circle cx="1367.1" cy="2274.5" r="9.7"/>
<circle cx="1357.4" cy="2266.7" r="9.7"/>
<circle cx="1348.3" cy="2258.2" r="9.7"/>
<circle cx="1345.3" cy="2246.1" r="9.7"/>
<circle cx="1348.7" cy="2234.2" r="9.7"/>
<circle cx="1344.1" cy="2222.8" r="9.7"/>
<circle cx="1343.9" cy="2210.4" r="9.7"/>
<circle cx="1344.4" cy="2197.9" r="9.7"/>
<circle cx="1348.0" cy="2186.2" r="9.7"/>
<circle cx="1353.5" cy="2175.0" r="9.7"/>
<circle cx="1351.5" cy="2166.0" r="9.7"/>
<circle cx="1342.1" cy="2171.2" r="9.7"/>
<circle cx="1335.4" cy="2181.3" r="9.7"/>
<circle cx="1323.3" cy="2184.4" r="9.7"/>
<circle cx="1311.1" cy="2186.8" r="9.7"/>
<circle cx="1308.8" cy="2198.1" r="9.7"/>
<circle cx="1308.1" cy="2210.6" r="9.7"/>
<circle cx="1306.3" cy="2222.9" r="9.7"/>
<path d="M1303.2 2235.0 L1302.7 2245.6 L1302.7 2260.7 L1302.7 2261.5 L1302.5 2262.3 L1302.3 2263.1 L1302.0 2263.8 L1301.6 2264.5 L1296.9 2272.5 L1297.4 2276.9 L1306.7 2292.4 L1307.2 2293.3 L1311.3 2302.7 L1327.4 2304.0 L1350.5 2302.4 L1354.6 2300.0 L1355.6 2294.8 L1355.8 2294.1 L1356.1 2293.5 L1356.4 2292.8 L1356.7 2292.2 L1357.1 2291.7 L1357.6 2291.1 L1358.1 2290.6 L1358.6 2290.2 L1359.2 2289.8 L1359.8 2289.5 L1370.8 2284.4 L1371.6 2284.1 L1372.3 2283.9 L1373.1 2283.8 L1373.9 2283.7 L1374.7 2283.7 L1375.4 2283.8 L1386.7 2286.1 L1387.7 2285.9 L1387.7 2280.3 L1383.2 2275.0 L1369.7 2275.0 L1368.9 2275.0 L1368.2 2274.8 L1367.4 2274.7 L1366.7 2274.4 L1366.0 2274.0 L1365.4 2273.6 L1364.8 2273.2 L1358.9 2268.1 L1358.7 2267.9 L1349.4 2259.4 L1348.9 2258.9 L1348.4 2258.3 L1348.0 2257.6 L1347.6 2256.9 L1347.3 2256.1 L1347.1 2255.4 L1345.4 2246.9 L1345.3 2246.1 L1345.3 2245.3 L1345.3 2244.5 L1345.5 2243.8 L1345.7 2243.0 L1348.9 2233.3 L1344.3 2223.4 L1344.0 2222.7 L1343.8 2222.0 L1343.7 2221.3 L1343.6 2220.6 L1343.6 2219.9 L1344.5 2194.4 L1344.6 2193.8 L1344.7 2193.1 L1344.8 2192.4 L1345.1 2191.8 L1345.4 2191.2 L1352.7 2177.3 L1355.8 2167.9 L1353.1 2165.9 L1344.2 2166.4 L1339.4 2177.4 L1339.0 2178.1 L1338.6 2178.7 L1338.1 2179.3 L1337.6 2179.9 L1337.0 2180.4 L1336.4 2180.8 L1335.7 2181.2 L1335.0 2181.5 L1334.3 2181.7 L1320.7 2185.1 L1320.2 2185.2 L1309.8 2187.0 L1309.4 2188.0 L1307.8 2216.3 L1307.7 2217.0 L1307.6 2217.7 L1303.3 2234.7 L1303.2 2235.0 Z"/>
<circle cx="1325.0" cy="2166.0" r="9.7"/>
<circle cx="1320.0" cy="2173.0" r="9.7"/>
<circle cx="1312.0" cy="2178.0" r="9.7"/>
<circle cx="1364.2" cy="2034.2" r="9.7"/>
<circle cx="1360.8" cy="2041.9" r="9.7"/>
<circle cx="1310.0" cy="2060.9" r="9.7"/>
<circle cx="1313.4" cy="2096.5" r="9.7"/>
<circle cx="1324.4" cy="2105.4" r="9.7"/>
<circle cx="1367.6" cy="2105.0" r="9.7"/>
<circle cx="1310.0" cy="2119.0" r="9.7"/>
<circle cx="1310.0" cy="2122.3" r="9.7"/>
<circle cx="1324.0" cy="2110.0" r="9.7"/>
<circle cx="1332.0" cy="2138.0" r="9.7"/>
<circle cx="1312.1" cy="2150.7" r="9.7"/>
<circle cx="1329.1" cy="2159.2" r="9.7"/>
<circle cx="1355.3" cy="2165.9" r="9.7"/>
<circle cx="1349.4" cy="2177.8" r="9.7"/>
<circle cx="1363.0" cy="2205.8" r="9.7"/>
<circle cx="1373.6" cy="2228.6" r="9.7"/>
<circle cx="1376.5" cy="2249.8" r="9.7"/>
<circle cx="1373.6" cy="2229.3" r="9.7"/>
<circle cx="1377.4" cy="2254.7" r="9.7"/>
<circle cx="1401.9" cy="2296.3" r="9.7"/>
<circle cx="1418.0" cy="2292.0" r="9.7"/>
<circle cx="1420.6" cy="2279.3" r="9.7"/>
<circle cx="1354.5" cy="2303.1" r="9.7"/>
<circle cx="1470.2" cy="2211.5" r="9.7"/>
<circle cx="1480.4" cy="2270.1" r="9.7"/>
<circle cx="1509.4" cy="2282.2" r="9.7"/>
<circle cx="1425.2" cy="2279.3" r="9.7"/>
<circle cx="1417.9" cy="2301.1" r="9.7"/>
<circle cx="1402.9" cy="2296.2" r="9.7"/>
<circle cx="1413.6" cy="2288.5" r="9.7"/>
</g>
<text x="1214.44" y="2318.30" font-size="31.50" textLength="43.79" lengthAdjust="spacingAndGlyphs">0.0</text>
<text x="1214.44" y="2261.10" font-size="31.50" textLength="43.79" lengthAdjust="spacingAndGlyphs">1.0</text>
<text x="1214.44" y="2203.90" font-size="31.50" textLength="43.79" lengthAdjust="spacingAndGlyphs">2.0</text>
<text x="1214.44" y="2146.70" font-size="31.50" textLength="43.79" lengthAdjust="spacingAndGlyphs">3.0</text>
<text x="1214.44" y="2089.50" font-size="31.50" textLength="43.79" lengthAdjust="spacingAndGlyphs">4.0</text>
<text x="1214.44" y="2032.30" font-size="31.50" textLength="43.79" lengthAdjust="spacingAndGlyphs">5.0</text>
<text x="1214.44" y="1975.10" font-size="31.50" textLength="43.79" lengthAdjust="spacingAndGlyphs">6.0</text>
<text x="1281.92" y="2363.80" font-size="31.50" textLength="17.17" lengthAdjust="spacingAndGlyphs">0</text>
<text x="1381.12" y="2363.80" font-size="31.50" textLength="42.91" lengthAdjust="spacingAndGlyphs">0.2</text>
<text x="1492.69" y="2363.80" font-size="31.50" textLength="42.91" lengthAdjust="spacingAndGlyphs">0.4</text>
<text x="1604.82" y="2363.80" font-size="31.50" textLength="42.91" lengthAdjust="spacingAndGlyphs">0.6</text>
<text x="1716.71" y="2363.80" font-size="31.50" textLength="42.91" lengthAdjust="spacingAndGlyphs">0.8</text>
<text transform="translate(1194.80 2163.80) rotate(-90)" x="-1.38" y="0" font-size="31.50" textLength="54.20" lengthAdjust="spacingAndGlyphs">SMI</text>
<text x="1411.80" y="2414.30" font-size="31.50" textLength="205.03" lengthAdjust="spacingAndGlyphs">Total As (µg/g)</text>
<rect x="1548.10" y="1980.30" width="166.60" height="101.10" fill="#fff" stroke="#000" stroke-width="2.5"/>
<rect x="1548.40" y="2088.90" width="165.70" height="95.50" fill="#fff" stroke="#000" stroke-width="2.5"/>
<circle cx="1569.7" cy="2005.6" r="8.8" fill="none" stroke="#0000f5" stroke-width="2.6"/>
<circle cx="1569.7" cy="2056.0" r="9.7" fill="#ff0000"/>
<text x="1587.69" y="2015.70" font-size="31.50" textLength="117.85" lengthAdjust="spacingAndGlyphs">Controls</text>
<text x="1587.90" y="2065.70" font-size="31.50" textLength="78.30" lengthAdjust="spacingAndGlyphs">Cases</text>
<text x="1565.79" y="2127.00" font-size="31.50" textLength="132.14" lengthAdjust="spacingAndGlyphs"><tspan font-style="italic">r</tspan> = -0.038</text>
<text x="1576.86" y="2168.80" font-size="31.50" textLength="110.56" lengthAdjust="spacingAndGlyphs"><tspan font-style="italic">p</tspan> = 0.38</text>
</svg></body></html>
